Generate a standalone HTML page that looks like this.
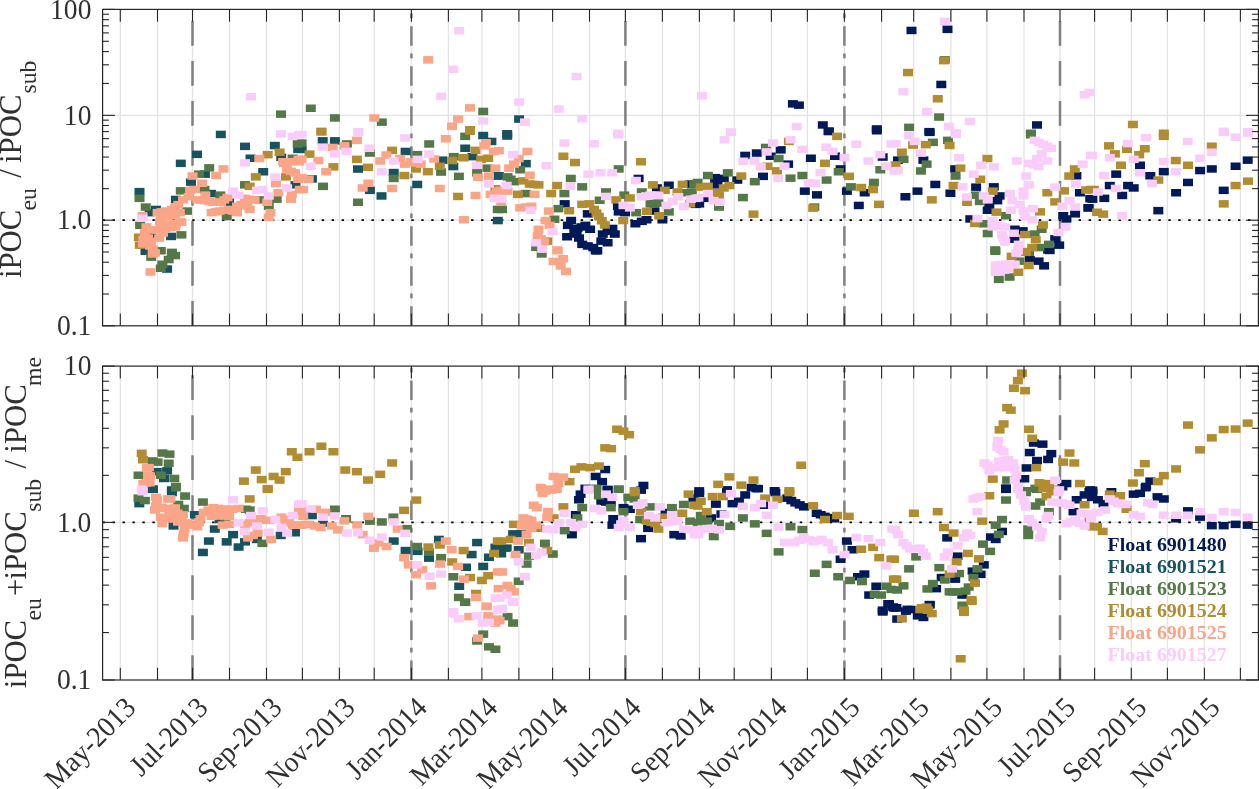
<!DOCTYPE html>
<html><head><meta charset="utf-8"><style>
html,body{margin:0;padding:0;background:#fff;overflow:hidden}
svg{display:block;will-change:transform}
text{font-family:"Liberation Serif",serif;}
.tl{font-size:29px;fill:#303030}
.yl{font-size:30.8px;fill:#303030}
.sb{font-size:23.7px;fill:#303030}
.lg{font-size:19px;font-weight:bold}
</style></head><body>
<svg width="1259" height="789" viewBox="0 0 1259 789">
<rect width="100%" height="100%" fill="#fff"/>
<defs><rect id="N" width="10" height="7.5" fill="#011959"/><rect id="T" width="10" height="7.5" fill="#165260"/><rect id="G" width="10" height="7.5" fill="#557848"/><rect id="Y" width="10" height="7.5" fill="#B28C30"/><rect id="S" width="10" height="7.5" fill="#FAA587"/><rect id="P" width="10" height="7.5" fill="#FACCFA"/></defs>
<line x1="120.30" y1="9.4" x2="120.30" y2="325.8" stroke="#e3e3e3" stroke-width="1.3"/>
<line x1="157.50" y1="9.4" x2="157.50" y2="325.8" stroke="#e3e3e3" stroke-width="1.3"/>
<line x1="192.50" y1="9.4" x2="192.50" y2="325.8" stroke="#e3e3e3" stroke-width="1.3"/>
<line x1="229.50" y1="9.4" x2="229.50" y2="325.8" stroke="#e3e3e3" stroke-width="1.3"/>
<line x1="266.50" y1="9.4" x2="266.50" y2="325.8" stroke="#e3e3e3" stroke-width="1.3"/>
<line x1="302.40" y1="9.4" x2="302.40" y2="325.8" stroke="#e3e3e3" stroke-width="1.3"/>
<line x1="339.40" y1="9.4" x2="339.40" y2="325.8" stroke="#e3e3e3" stroke-width="1.3"/>
<line x1="374.20" y1="9.4" x2="374.20" y2="325.8" stroke="#e3e3e3" stroke-width="1.3"/>
<line x1="411.40" y1="9.4" x2="411.40" y2="325.8" stroke="#e3e3e3" stroke-width="1.3"/>
<line x1="448.40" y1="9.4" x2="448.40" y2="325.8" stroke="#e3e3e3" stroke-width="1.3"/>
<line x1="481.90" y1="9.4" x2="481.90" y2="325.8" stroke="#e3e3e3" stroke-width="1.3"/>
<line x1="518.90" y1="9.4" x2="518.90" y2="325.8" stroke="#e3e3e3" stroke-width="1.3"/>
<line x1="552.60" y1="9.4" x2="552.60" y2="325.8" stroke="#e3e3e3" stroke-width="1.3"/>
<line x1="589.50" y1="9.4" x2="589.50" y2="325.8" stroke="#e3e3e3" stroke-width="1.3"/>
<line x1="625.40" y1="9.4" x2="625.40" y2="325.8" stroke="#e3e3e3" stroke-width="1.3"/>
<line x1="662.40" y1="9.4" x2="662.40" y2="325.8" stroke="#e3e3e3" stroke-width="1.3"/>
<line x1="699.40" y1="9.4" x2="699.40" y2="325.8" stroke="#e3e3e3" stroke-width="1.3"/>
<line x1="734.20" y1="9.4" x2="734.20" y2="325.8" stroke="#e3e3e3" stroke-width="1.3"/>
<line x1="771.40" y1="9.4" x2="771.40" y2="325.8" stroke="#e3e3e3" stroke-width="1.3"/>
<line x1="807.40" y1="9.4" x2="807.40" y2="325.8" stroke="#e3e3e3" stroke-width="1.3"/>
<line x1="844.40" y1="9.4" x2="844.40" y2="325.8" stroke="#e3e3e3" stroke-width="1.3"/>
<line x1="881.60" y1="9.4" x2="881.60" y2="325.8" stroke="#e3e3e3" stroke-width="1.3"/>
<line x1="913.70" y1="9.4" x2="913.70" y2="325.8" stroke="#e3e3e3" stroke-width="1.3"/>
<line x1="950.90" y1="9.4" x2="950.90" y2="325.8" stroke="#e3e3e3" stroke-width="1.3"/>
<line x1="986.90" y1="9.4" x2="986.90" y2="325.8" stroke="#e3e3e3" stroke-width="1.3"/>
<line x1="1024.00" y1="9.4" x2="1024.00" y2="325.8" stroke="#e3e3e3" stroke-width="1.3"/>
<line x1="1060.00" y1="9.4" x2="1060.00" y2="325.8" stroke="#e3e3e3" stroke-width="1.3"/>
<line x1="1094.60" y1="9.4" x2="1094.60" y2="325.8" stroke="#e3e3e3" stroke-width="1.3"/>
<line x1="1131.30" y1="9.4" x2="1131.30" y2="325.8" stroke="#e3e3e3" stroke-width="1.3"/>
<line x1="1167.40" y1="9.4" x2="1167.40" y2="325.8" stroke="#e3e3e3" stroke-width="1.3"/>
<line x1="1204.40" y1="9.4" x2="1204.40" y2="325.8" stroke="#e3e3e3" stroke-width="1.3"/>
<line x1="1240.40" y1="9.4" x2="1240.40" y2="325.8" stroke="#e3e3e3" stroke-width="1.3"/>
<line x1="102.6" y1="220.20" x2="1258.4" y2="220.20" stroke="#e3e3e3" stroke-width="1.3"/>
<line x1="102.6" y1="115.35" x2="1258.4" y2="115.35" stroke="#e3e3e3" stroke-width="1.3"/>
<line x1="192.50" y1="325.8" x2="192.50" y2="9.4" stroke="#808080" stroke-width="2.5" stroke-dasharray="24.8 15.2"/>
<line x1="411.40" y1="325.8" x2="411.40" y2="9.4" stroke="#808080" stroke-width="2.5" stroke-dasharray="19.5 8 4.8 7.7"/>
<line x1="625.40" y1="325.8" x2="625.40" y2="9.4" stroke="#808080" stroke-width="2.5" stroke-dasharray="24.8 15.2"/>
<line x1="844.40" y1="325.8" x2="844.40" y2="9.4" stroke="#808080" stroke-width="2.5" stroke-dasharray="19.5 8 4.8 7.7"/>
<line x1="1060.00" y1="325.8" x2="1060.00" y2="9.4" stroke="#808080" stroke-width="2.5" stroke-dasharray="24.8 15.2"/>
<line x1="102.58" y1="220.20" x2="1258.4" y2="220.20" stroke="#000" stroke-width="1.7" stroke-dasharray="2.4 7.56"/>
<g clip-path="url(#c1)">
<use href="#N" x="823.6" y="127.8"/>
<use href="#N" x="871.8" y="127.0"/>
<use href="#N" x="830.0" y="152.5"/>
<use href="#N" x="877.7" y="153.3"/>
<use href="#N" x="740.2" y="151.7"/>
<use href="#N" x="751.8" y="149.3"/>
<use href="#N" x="775.7" y="146.1"/>
<use href="#N" x="765.7" y="152.5"/>
<use href="#N" x="783.1" y="160.4"/>
<use href="#N" x="805.9" y="154.5"/>
<use href="#N" x="835.6" y="165.2"/>
<use href="#N" x="710.1" y="173.9"/>
<use href="#N" x="712.4" y="178.7"/>
<use href="#N" x="718.8" y="174.7"/>
<use href="#N" x="732.3" y="176.3"/>
<use href="#N" x="758.0" y="172.6"/>
<use href="#N" x="710.1" y="181.1"/>
<use href="#N" x="698.9" y="194.6"/>
<use href="#N" x="694.2" y="200.1"/>
<use href="#N" x="799.8" y="187.4"/>
<use href="#N" x="812.0" y="191.1"/>
<use href="#N" x="841.9" y="187.4"/>
<use href="#N" x="859.7" y="189.0"/>
<use href="#N" x="853.8" y="201.7"/>
<use href="#N" x="906.5" y="26.7"/>
<use href="#N" x="942.5" y="25.6"/>
<use href="#N" x="936.3" y="80.7"/>
<use href="#N" x="924.3" y="127.9"/>
<use href="#N" x="1032.0" y="121.2"/>
<use href="#N" x="924.7" y="128.6"/>
<use href="#N" x="893.0" y="156.4"/>
<use href="#N" x="918.4" y="156.4"/>
<use href="#N" x="950.2" y="165.2"/>
<use href="#N" x="1071.4" y="172.0"/>
<use href="#N" x="930.3" y="180.7"/>
<use href="#N" x="912.5" y="187.4"/>
<use href="#N" x="900.4" y="193.0"/>
<use href="#N" x="945.4" y="189.5"/>
<use href="#N" x="971.1" y="183.4"/>
<use href="#N" x="988.8" y="183.1"/>
<use href="#N" x="1074.9" y="189.0"/>
<use href="#N" x="1085.2" y="194.9"/>
<use href="#N" x="994.6" y="192.2"/>
<use href="#N" x="992.3" y="196.9"/>
<use href="#N" x="984.3" y="202.5"/>
<use href="#N" x="982.7" y="206.5"/>
<use href="#N" x="1083.6" y="204.1"/>
<use href="#N" x="1070.1" y="210.1"/>
<use href="#N" x="1058.2" y="212.0"/>
<use href="#N" x="1061.4" y="215.2"/>
<use href="#N" x="965.3" y="215.2"/>
<use href="#N" x="1009.7" y="225.5"/>
<use href="#N" x="1017.7" y="227.1"/>
<use href="#N" x="1009.4" y="235.5"/>
<use href="#N" x="1050.2" y="235.1"/>
<use href="#N" x="1054.2" y="241.4"/>
<use href="#N" x="1043.1" y="246.2"/>
<use href="#N" x="1044.7" y="246.7"/>
<use href="#N" x="1024.8" y="255.8"/>
<use href="#N" x="1033.6" y="257.4"/>
<use href="#N" x="1039.1" y="262.1"/>
<use href="#N" x="1135.0" y="161.5"/>
<use href="#N" x="1242.7" y="156.4"/>
<use href="#N" x="1230.6" y="162.5"/>
<use href="#N" x="1206.8" y="165.2"/>
<use href="#N" x="1195.1" y="166.8"/>
<use href="#N" x="1158.8" y="167.9"/>
<use href="#N" x="1145.3" y="172.0"/>
<use href="#N" x="1111.2" y="170.4"/>
<use href="#N" x="1183.0" y="178.7"/>
<use href="#N" x="1104.8" y="181.8"/>
<use href="#N" x="1123.1" y="181.8"/>
<use href="#N" x="1128.7" y="184.2"/>
<use href="#N" x="1117.2" y="191.7"/>
<use href="#N" x="1099.3" y="194.6"/>
<use href="#N" x="1087.4" y="195.4"/>
<use href="#N" x="1083.4" y="204.1"/>
<use href="#N" x="1153.3" y="206.9"/>
<use href="#N" x="1171.1" y="189.0"/>
<use href="#N" x="1218.7" y="186.6"/>
<use href="#N" x="633.6" y="174.7"/>
<use href="#N" x="651.9" y="184.2"/>
<use href="#N" x="663.8" y="181.5"/>
<use href="#N" x="685.2" y="180.3"/>
<use href="#N" x="559.7" y="200.1"/>
<use href="#N" x="582.8" y="210.1"/>
<use href="#N" x="612.9" y="202.5"/>
<use href="#N" x="613.7" y="208.1"/>
<use href="#N" x="620.1" y="208.9"/>
<use href="#N" x="649.5" y="207.3"/>
<use href="#N" x="657.4" y="216.0"/>
<use href="#N" x="690.8" y="200.6"/>
<use href="#N" x="630.4" y="220.0"/>
<use href="#N" x="636.8" y="217.6"/>
<use href="#N" x="641.5" y="216.0"/>
<use href="#N" x="566.1" y="216.8"/>
<use href="#N" x="562.9" y="221.6"/>
<use href="#N" x="572.4" y="224.7"/>
<use href="#N" x="576.4" y="223.2"/>
<use href="#N" x="580.4" y="221.6"/>
<use href="#N" x="585.1" y="225.5"/>
<use href="#N" x="562.1" y="233.0"/>
<use href="#N" x="569.3" y="226.3"/>
<use href="#N" x="571.6" y="230.3"/>
<use href="#N" x="574.0" y="234.3"/>
<use href="#N" x="577.2" y="240.6"/>
<use href="#N" x="582.8" y="242.2"/>
<use href="#N" x="588.3" y="243.8"/>
<use href="#N" x="592.3" y="247.0"/>
<use href="#N" x="596.3" y="237.4"/>
<use href="#N" x="602.6" y="239.0"/>
<use href="#N" x="597.8" y="230.3"/>
<use href="#N" x="602.6" y="227.5"/>
<use href="#N" x="607.4" y="224.7"/>
<use href="#N" x="609.8" y="230.3"/>
<use href="#N" x="590.7" y="247.0"/>
<use href="#N" x="787.9" y="100.1"/>
<use href="#N" x="793.9" y="101.4"/>
<use href="#N" x="817.8" y="121.2"/>
<use href="#N" x="823.8" y="127.3"/>
<use href="#N" x="871.8" y="125.2"/>
<use href="#T" x="215.8" y="130.7"/>
<use href="#T" x="240.0" y="142.6"/>
<use href="#T" x="269.8" y="141.8"/>
<use href="#T" x="293.2" y="145.6"/>
<use href="#T" x="192.0" y="150.6"/>
<use href="#T" x="245.5" y="154.5"/>
<use href="#T" x="276.2" y="153.6"/>
<use href="#T" x="175.8" y="159.6"/>
<use href="#T" x="258.2" y="168.0"/>
<use href="#T" x="199.9" y="170.4"/>
<use href="#T" x="186.0" y="178.4"/>
<use href="#T" x="290.5" y="181.1"/>
<use href="#T" x="206.0" y="189.8"/>
<use href="#T" x="134.5" y="187.9"/>
<use href="#T" x="170.9" y="195.7"/>
<use href="#T" x="151.0" y="205.7"/>
<use href="#T" x="144.7" y="208.9"/>
<use href="#T" x="224.1" y="198.5"/>
<use href="#T" x="146.2" y="231.1"/>
<use href="#T" x="166.1" y="232.7"/>
<use href="#T" x="140.7" y="247.0"/>
<use href="#T" x="140.7" y="247.5"/>
<use href="#T" x="162.1" y="265.3"/>
<use href="#T" x="478.2" y="131.8"/>
<use href="#T" x="317.7" y="137.1"/>
<use href="#T" x="329.9" y="137.1"/>
<use href="#T" x="296.6" y="145.6"/>
<use href="#T" x="460.2" y="144.5"/>
<use href="#T" x="486.4" y="137.7"/>
<use href="#T" x="400.6" y="147.7"/>
<use href="#T" x="437.2" y="156.4"/>
<use href="#T" x="467.4" y="152.9"/>
<use href="#T" x="448.3" y="162.8"/>
<use href="#T" x="353.0" y="165.3"/>
<use href="#T" x="388.7" y="168.8"/>
<use href="#T" x="492.0" y="172.3"/>
<use href="#T" x="306.9" y="175.2"/>
<use href="#T" x="364.9" y="186.6"/>
<use href="#T" x="412.2" y="180.7"/>
<use href="#T" x="376.5" y="192.2"/>
<use href="#T" x="492.8" y="216.8"/>
<use href="#T" x="514.1" y="115.3"/>
<use href="#T" x="502.2" y="130.0"/>
<use href="#T" x="502.2" y="132.3"/>
<use href="#T" x="520.8" y="159.9"/>
<use href="#T" x="493.8" y="172.0"/>
<use href="#G" x="276.0" y="110.4"/>
<use href="#G" x="760.9" y="143.7"/>
<use href="#G" x="773.6" y="154.8"/>
<use href="#G" x="875.3" y="166.0"/>
<use href="#G" x="833.7" y="168.0"/>
<use href="#G" x="785.5" y="174.4"/>
<use href="#G" x="797.4" y="171.8"/>
<use href="#G" x="821.6" y="176.3"/>
<use href="#G" x="702.9" y="171.8"/>
<use href="#G" x="722.8" y="169.1"/>
<use href="#G" x="749.8" y="177.9"/>
<use href="#G" x="692.6" y="178.7"/>
<use href="#G" x="714.0" y="203.3"/>
<use href="#G" x="737.9" y="193.8"/>
<use href="#G" x="809.3" y="203.3"/>
<use href="#G" x="845.9" y="183.1"/>
<use href="#G" x="868.9" y="178.7"/>
<use href="#G" x="939.8" y="56.1"/>
<use href="#G" x="934.1" y="113.3"/>
<use href="#G" x="904.1" y="123.6"/>
<use href="#G" x="1025.9" y="129.5"/>
<use href="#G" x="927.9" y="138.6"/>
<use href="#G" x="943.0" y="136.6"/>
<use href="#G" x="898.5" y="155.6"/>
<use href="#G" x="921.6" y="160.4"/>
<use href="#G" x="916.0" y="167.2"/>
<use href="#G" x="1025.9" y="131.0"/>
<use href="#G" x="950.6" y="172.3"/>
<use href="#G" x="970.8" y="191.4"/>
<use href="#G" x="974.8" y="197.7"/>
<use href="#G" x="1001.0" y="212.0"/>
<use href="#G" x="978.8" y="220.0"/>
<use href="#G" x="982.7" y="229.8"/>
<use href="#G" x="1036.7" y="225.5"/>
<use href="#G" x="1029.6" y="230.3"/>
<use href="#G" x="1043.9" y="240.6"/>
<use href="#G" x="1034.4" y="243.8"/>
<use href="#G" x="990.2" y="246.2"/>
<use href="#G" x="990.4" y="247.5"/>
<use href="#G" x="1014.5" y="257.4"/>
<use href="#G" x="1024.0" y="248.6"/>
<use href="#G" x="993.8" y="275.6"/>
<use href="#G" x="1004.6" y="273.3"/>
<use href="#G" x="292.7" y="140.2"/>
<use href="#G" x="287.6" y="154.5"/>
<use href="#G" x="204.2" y="164.1"/>
<use href="#G" x="193.9" y="170.4"/>
<use href="#G" x="240.0" y="181.1"/>
<use href="#G" x="199.5" y="185.8"/>
<use href="#G" x="215.3" y="191.4"/>
<use href="#G" x="134.5" y="194.6"/>
<use href="#G" x="175.8" y="187.1"/>
<use href="#G" x="140.7" y="203.3"/>
<use href="#G" x="182.0" y="207.3"/>
<use href="#G" x="221.7" y="212.8"/>
<use href="#G" x="255.1" y="196.1"/>
<use href="#G" x="263.8" y="202.5"/>
<use href="#G" x="271.7" y="195.4"/>
<use href="#G" x="135.1" y="221.6"/>
<use href="#G" x="176.4" y="231.1"/>
<use href="#G" x="155.8" y="247.0"/>
<use href="#G" x="166.9" y="248.6"/>
<use href="#G" x="146.2" y="253.4"/>
<use href="#G" x="166.9" y="250.2"/>
<use href="#G" x="170.1" y="251.8"/>
<use href="#G" x="163.7" y="255.8"/>
<use href="#G" x="157.4" y="260.5"/>
<use href="#G" x="155.8" y="264.5"/>
<use href="#G" x="305.8" y="104.5"/>
<use href="#G" x="329.9" y="114.2"/>
<use href="#G" x="376.8" y="118.4"/>
<use href="#G" x="478.2" y="107.7"/>
<use href="#G" x="460.2" y="132.6"/>
<use href="#G" x="341.9" y="140.2"/>
<use href="#G" x="296.6" y="139.3"/>
<use href="#G" x="364.9" y="149.3"/>
<use href="#G" x="424.2" y="140.2"/>
<use href="#G" x="412.2" y="150.9"/>
<use href="#G" x="448.8" y="152.9"/>
<use href="#G" x="388.7" y="174.7"/>
<use href="#G" x="436.1" y="168.3"/>
<use href="#G" x="453.9" y="172.6"/>
<use href="#G" x="482.5" y="164.4"/>
<use href="#G" x="472.1" y="169.1"/>
<use href="#G" x="318.0" y="182.6"/>
<use href="#G" x="353.0" y="198.5"/>
<use href="#G" x="492.8" y="205.7"/>
<use href="#G" x="515.2" y="166.0"/>
<use href="#G" x="613.7" y="165.2"/>
<use href="#G" x="502.5" y="173.1"/>
<use href="#G" x="505.7" y="175.5"/>
<use href="#G" x="508.9" y="177.9"/>
<use href="#G" x="565.8" y="174.7"/>
<use href="#G" x="577.2" y="183.1"/>
<use href="#G" x="520.8" y="189.8"/>
<use href="#G" x="559.4" y="189.8"/>
<use href="#G" x="689.2" y="180.3"/>
<use href="#G" x="497.0" y="205.7"/>
<use href="#G" x="553.4" y="204.9"/>
<use href="#G" x="594.7" y="196.5"/>
<use href="#G" x="601.0" y="188.2"/>
<use href="#G" x="619.3" y="191.4"/>
<use href="#G" x="631.2" y="208.9"/>
<use href="#G" x="636.8" y="188.2"/>
<use href="#G" x="645.5" y="200.1"/>
<use href="#G" x="649.5" y="199.7"/>
<use href="#G" x="653.4" y="199.3"/>
<use href="#G" x="663.8" y="208.1"/>
<use href="#G" x="681.2" y="189.0"/>
<use href="#G" x="686.8" y="188.2"/>
<use href="#G" x="549.4" y="215.5"/>
<use href="#G" x="531.1" y="243.5"/>
<use href="#G" x="536.7" y="250.2"/>
<use href="#Y" x="832.1" y="132.6"/>
<use href="#Y" x="783.9" y="137.7"/>
<use href="#Y" x="762.5" y="162.5"/>
<use href="#Y" x="820.0" y="159.6"/>
<use href="#Y" x="888.8" y="162.8"/>
<use href="#Y" x="772.0" y="167.1"/>
<use href="#Y" x="844.0" y="172.6"/>
<use href="#Y" x="736.3" y="172.3"/>
<use href="#Y" x="695.8" y="183.4"/>
<use href="#Y" x="702.9" y="182.6"/>
<use href="#Y" x="718.8" y="184.2"/>
<use href="#Y" x="724.4" y="181.8"/>
<use href="#Y" x="711.7" y="189.0"/>
<use href="#Y" x="714.0" y="191.4"/>
<use href="#Y" x="748.5" y="210.4"/>
<use href="#Y" x="808.2" y="204.4"/>
<use href="#Y" x="856.2" y="183.8"/>
<use href="#Y" x="868.1" y="185.8"/>
<use href="#Y" x="874.0" y="200.6"/>
<use href="#Y" x="939.0" y="56.9"/>
<use href="#Y" x="903.0" y="68.8"/>
<use href="#Y" x="932.8" y="95.0"/>
<use href="#Y" x="908.1" y="141.3"/>
<use href="#Y" x="920.8" y="140.9"/>
<use href="#Y" x="944.6" y="141.7"/>
<use href="#Y" x="896.9" y="148.5"/>
<use href="#Y" x="890.6" y="161.2"/>
<use href="#Y" x="982.4" y="154.8"/>
<use href="#Y" x="955.4" y="164.4"/>
<use href="#Y" x="975.3" y="175.5"/>
<use href="#Y" x="1069.8" y="165.2"/>
<use href="#Y" x="1064.2" y="172.3"/>
<use href="#Y" x="926.8" y="196.1"/>
<use href="#Y" x="948.6" y="181.8"/>
<use href="#Y" x="987.8" y="187.4"/>
<use href="#Y" x="1042.3" y="189.0"/>
<use href="#Y" x="1059.0" y="187.1"/>
<use href="#Y" x="1081.2" y="186.3"/>
<use href="#Y" x="1086.0" y="185.8"/>
<use href="#Y" x="962.1" y="198.5"/>
<use href="#Y" x="991.5" y="208.4"/>
<use href="#Y" x="1035.1" y="208.1"/>
<use href="#Y" x="1050.2" y="198.1"/>
<use href="#Y" x="970.0" y="219.7"/>
<use href="#Y" x="1020.1" y="230.8"/>
<use href="#Y" x="1038.0" y="221.2"/>
<use href="#Y" x="1030.7" y="235.9"/>
<use href="#Y" x="1027.2" y="243.8"/>
<use href="#Y" x="1020.9" y="248.6"/>
<use href="#Y" x="1006.6" y="252.6"/>
<use href="#Y" x="1020.9" y="247.8"/>
<use href="#Y" x="1023.7" y="261.8"/>
<use href="#Y" x="1013.2" y="268.5"/>
<use href="#Y" x="1127.9" y="120.7"/>
<use href="#Y" x="1158.8" y="129.5"/>
<use href="#Y" x="1158.8" y="132.6"/>
<use href="#Y" x="1104.0" y="142.1"/>
<use href="#Y" x="1109.9" y="150.1"/>
<use href="#Y" x="1122.0" y="145.6"/>
<use href="#Y" x="1139.8" y="145.0"/>
<use href="#Y" x="1134.2" y="150.9"/>
<use href="#Y" x="1116.0" y="161.5"/>
<use href="#Y" x="1170.8" y="156.8"/>
<use href="#Y" x="1183.0" y="161.5"/>
<use href="#Y" x="1206.8" y="142.5"/>
<use href="#Y" x="1153.3" y="176.3"/>
<use href="#Y" x="1088.9" y="185.8"/>
<use href="#Y" x="1092.1" y="208.5"/>
<use href="#Y" x="1098.2" y="210.4"/>
<use href="#Y" x="1230.6" y="181.8"/>
<use href="#Y" x="1243.0" y="177.4"/>
<use href="#Y" x="1218.7" y="200.1"/>
<use href="#Y" x="262.7" y="150.9"/>
<use href="#Y" x="274.6" y="148.5"/>
<use href="#Y" x="250.8" y="173.1"/>
<use href="#Y" x="281.0" y="173.1"/>
<use href="#Y" x="244.7" y="182.6"/>
<use href="#Y" x="133.9" y="233.5"/>
<use href="#Y" x="134.8" y="241.4"/>
<use href="#Y" x="465.0" y="126.0"/>
<use href="#Y" x="316.4" y="127.6"/>
<use href="#Y" x="316.4" y="128.2"/>
<use href="#Y" x="465.0" y="127.5"/>
<use href="#Y" x="470.5" y="146.6"/>
<use href="#Y" x="304.5" y="150.4"/>
<use href="#Y" x="351.9" y="155.6"/>
<use href="#Y" x="387.1" y="146.6"/>
<use href="#Y" x="447.2" y="156.8"/>
<use href="#Y" x="458.6" y="154.0"/>
<use href="#Y" x="476.1" y="155.6"/>
<use href="#Y" x="483.2" y="154.5"/>
<use href="#Y" x="434.8" y="162.5"/>
<use href="#Y" x="328.4" y="163.1"/>
<use href="#Y" x="363.0" y="163.6"/>
<use href="#Y" x="399.4" y="171.8"/>
<use href="#Y" x="411.0" y="165.2"/>
<use href="#Y" x="422.9" y="167.9"/>
<use href="#Y" x="453.1" y="192.7"/>
<use href="#Y" x="490.4" y="185.0"/>
<use href="#Y" x="558.4" y="152.5"/>
<use href="#Y" x="570.0" y="158.8"/>
<use href="#Y" x="636.0" y="158.0"/>
<use href="#Y" x="518.4" y="177.1"/>
<use href="#Y" x="524.8" y="180.3"/>
<use href="#Y" x="529.1" y="180.7"/>
<use href="#Y" x="533.5" y="181.1"/>
<use href="#Y" x="552.1" y="181.8"/>
<use href="#Y" x="512.9" y="190.6"/>
<use href="#Y" x="546.2" y="189.8"/>
<use href="#Y" x="647.9" y="181.1"/>
<use href="#Y" x="659.8" y="186.6"/>
<use href="#Y" x="677.6" y="180.6"/>
<use href="#Y" x="564.2" y="206.9"/>
<use href="#Y" x="577.2" y="200.6"/>
<use href="#Y" x="584.3" y="200.1"/>
<use href="#Y" x="589.1" y="205.7"/>
<use href="#Y" x="591.5" y="209.3"/>
<use href="#Y" x="593.9" y="212.8"/>
<use href="#Y" x="596.8" y="217.0"/>
<use href="#Y" x="599.8" y="221.2"/>
<use href="#Y" x="611.3" y="196.1"/>
<use href="#Y" x="624.9" y="194.2"/>
<use href="#Y" x="642.0" y="207.6"/>
<use href="#Y" x="654.2" y="212.0"/>
<use href="#Y" x="672.5" y="188.2"/>
<use href="#Y" x="685.2" y="200.1"/>
<use href="#Y" x="618.2" y="216.8"/>
<use href="#Y" x="542.2" y="237.4"/>
<use href="#S" x="160.0" y="212.2"/>
<use href="#S" x="170.0" y="210.2"/>
<use href="#S" x="155.0" y="218.2"/>
<use href="#S" x="165.0" y="220.2"/>
<use href="#S" x="175.0" y="218.2"/>
<use href="#S" x="147.0" y="226.2"/>
<use href="#S" x="143.0" y="234.2"/>
<use href="#S" x="138.0" y="240.2"/>
<use href="#S" x="145.0" y="242.2"/>
<use href="#S" x="150.0" y="249.2"/>
<use href="#S" x="158.0" y="229.2"/>
<use href="#S" x="254.3" y="154.8"/>
<use href="#S" x="293.5" y="155.6"/>
<use href="#S" x="218.5" y="165.2"/>
<use href="#S" x="187.5" y="172.3"/>
<use href="#S" x="211.1" y="171.8"/>
<use href="#S" x="278.9" y="159.6"/>
<use href="#S" x="282.1" y="166.0"/>
<use href="#S" x="286.0" y="167.6"/>
<use href="#S" x="290.0" y="169.1"/>
<use href="#S" x="293.2" y="175.5"/>
<use href="#S" x="278.1" y="158.0"/>
<use href="#S" x="283.4" y="158.0"/>
<use href="#S" x="288.7" y="158.0"/>
<use href="#S" x="294.0" y="158.0"/>
<use href="#S" x="197.1" y="179.5"/>
<use href="#S" x="270.9" y="179.9"/>
<use href="#S" x="273.3" y="189.0"/>
<use href="#S" x="286.8" y="190.6"/>
<use href="#S" x="286.0" y="195.4"/>
<use href="#S" x="294.8" y="185.8"/>
<use href="#S" x="200.3" y="191.4"/>
<use href="#S" x="185.2" y="186.6"/>
<use href="#S" x="189.1" y="185.8"/>
<use href="#S" x="183.6" y="193.0"/>
<use href="#S" x="178.0" y="196.1"/>
<use href="#S" x="173.3" y="200.9"/>
<use href="#S" x="170.1" y="203.3"/>
<use href="#S" x="166.9" y="205.7"/>
<use href="#S" x="160.5" y="207.3"/>
<use href="#S" x="156.6" y="208.1"/>
<use href="#S" x="152.6" y="208.9"/>
<use href="#S" x="155.8" y="212.0"/>
<use href="#S" x="160.5" y="212.0"/>
<use href="#S" x="165.3" y="212.0"/>
<use href="#S" x="170.1" y="210.4"/>
<use href="#S" x="174.8" y="208.9"/>
<use href="#S" x="155.8" y="220.0"/>
<use href="#S" x="160.5" y="220.8"/>
<use href="#S" x="165.3" y="221.6"/>
<use href="#S" x="170.9" y="220.0"/>
<use href="#S" x="176.4" y="218.4"/>
<use href="#S" x="152.6" y="226.3"/>
<use href="#S" x="156.6" y="225.5"/>
<use href="#S" x="160.5" y="224.7"/>
<use href="#S" x="165.3" y="223.9"/>
<use href="#S" x="170.1" y="223.2"/>
<use href="#S" x="192.3" y="196.1"/>
<use href="#S" x="196.3" y="196.5"/>
<use href="#S" x="200.3" y="196.9"/>
<use href="#S" x="204.2" y="197.7"/>
<use href="#S" x="208.2" y="198.5"/>
<use href="#S" x="212.2" y="198.5"/>
<use href="#S" x="216.1" y="198.5"/>
<use href="#S" x="219.3" y="196.1"/>
<use href="#S" x="222.5" y="193.8"/>
<use href="#S" x="206.6" y="208.9"/>
<use href="#S" x="210.6" y="208.1"/>
<use href="#S" x="214.6" y="207.3"/>
<use href="#S" x="219.3" y="206.5"/>
<use href="#S" x="224.1" y="205.7"/>
<use href="#S" x="228.1" y="207.3"/>
<use href="#S" x="232.0" y="208.9"/>
<use href="#S" x="232.0" y="202.5"/>
<use href="#S" x="236.0" y="200.9"/>
<use href="#S" x="240.0" y="199.3"/>
<use href="#S" x="242.4" y="202.5"/>
<use href="#S" x="244.7" y="205.7"/>
<use href="#S" x="249.5" y="196.1"/>
<use href="#S" x="244.7" y="195.4"/>
<use href="#S" x="240.0" y="194.6"/>
<use href="#S" x="262.2" y="198.5"/>
<use href="#S" x="265.4" y="208.9"/>
<use href="#S" x="263.8" y="213.6"/>
<use href="#S" x="137.5" y="212.0"/>
<use href="#S" x="141.5" y="223.2"/>
<use href="#S" x="139.9" y="229.5"/>
<use href="#S" x="138.3" y="235.9"/>
<use href="#S" x="144.7" y="237.4"/>
<use href="#S" x="146.2" y="241.4"/>
<use href="#S" x="147.8" y="245.4"/>
<use href="#S" x="154.2" y="234.3"/>
<use href="#S" x="147.8" y="250.2"/>
<use href="#S" x="145.5" y="268.2"/>
<use href="#S" x="423.2" y="56.1"/>
<use href="#S" x="369.3" y="114.2"/>
<use href="#S" x="465.0" y="104.1"/>
<use href="#S" x="453.1" y="115.3"/>
<use href="#S" x="447.0" y="122.5"/>
<use href="#S" x="440.8" y="135.0"/>
<use href="#S" x="351.9" y="136.6"/>
<use href="#S" x="339.5" y="142.1"/>
<use href="#S" x="327.6" y="143.7"/>
<use href="#S" x="480.9" y="139.0"/>
<use href="#S" x="479.3" y="142.1"/>
<use href="#S" x="488.8" y="147.7"/>
<use href="#S" x="313.3" y="156.8"/>
<use href="#S" x="296.6" y="155.6"/>
<use href="#S" x="381.3" y="151.3"/>
<use href="#S" x="375.2" y="157.2"/>
<use href="#S" x="395.1" y="154.8"/>
<use href="#S" x="399.8" y="160.4"/>
<use href="#S" x="406.2" y="158.0"/>
<use href="#S" x="411.0" y="159.2"/>
<use href="#S" x="415.7" y="160.4"/>
<use href="#S" x="429.2" y="155.2"/>
<use href="#S" x="321.2" y="167.9"/>
<use href="#S" x="490.4" y="164.4"/>
<use href="#S" x="472.9" y="173.6"/>
<use href="#S" x="484.0" y="172.3"/>
<use href="#S" x="303.7" y="175.5"/>
<use href="#S" x="296.6" y="173.9"/>
<use href="#S" x="298.2" y="185.8"/>
<use href="#S" x="363.3" y="179.5"/>
<use href="#S" x="357.7" y="184.2"/>
<use href="#S" x="387.1" y="184.7"/>
<use href="#S" x="434.8" y="184.7"/>
<use href="#S" x="470.5" y="191.7"/>
<use href="#S" x="492.0" y="187.4"/>
<use href="#S" x="485.6" y="190.6"/>
<use href="#S" x="458.9" y="216.0"/>
<use href="#S" x="522.4" y="147.7"/>
<use href="#S" x="493.8" y="146.9"/>
<use href="#S" x="513.7" y="154.8"/>
<use href="#S" x="508.9" y="160.4"/>
<use href="#S" x="504.1" y="164.4"/>
<use href="#S" x="524.8" y="171.5"/>
<use href="#S" x="496.2" y="186.6"/>
<use href="#S" x="502.5" y="187.4"/>
<use href="#S" x="529.5" y="190.6"/>
<use href="#S" x="496.2" y="198.5"/>
<use href="#S" x="515.2" y="204.1"/>
<use href="#S" x="520.8" y="203.3"/>
<use href="#S" x="526.4" y="202.5"/>
<use href="#S" x="543.8" y="207.3"/>
<use href="#S" x="540.7" y="216.8"/>
<use href="#S" x="544.6" y="221.6"/>
<use href="#S" x="533.5" y="225.5"/>
<use href="#S" x="532.7" y="231.9"/>
<use href="#S" x="535.9" y="235.1"/>
<use href="#S" x="539.1" y="238.2"/>
<use href="#S" x="552.3" y="246.2"/>
<use href="#S" x="552.6" y="247.0"/>
<use href="#S" x="558.1" y="255.0"/>
<use href="#S" x="548.6" y="257.7"/>
<use href="#S" x="555.7" y="262.1"/>
<use href="#S" x="561.0" y="267.7"/>
<use href="#P" x="246.0" y="93.1"/>
<use href="#P" x="725.9" y="128.6"/>
<use href="#P" x="719.6" y="136.1"/>
<use href="#P" x="785.5" y="136.1"/>
<use href="#P" x="768.0" y="139.3"/>
<use href="#P" x="851.4" y="140.5"/>
<use href="#P" x="886.4" y="140.2"/>
<use href="#P" x="797.4" y="145.6"/>
<use href="#P" x="821.3" y="143.4"/>
<use href="#P" x="827.6" y="147.7"/>
<use href="#P" x="839.5" y="154.0"/>
<use href="#P" x="875.3" y="150.9"/>
<use href="#P" x="761.7" y="148.2"/>
<use href="#P" x="738.3" y="157.5"/>
<use href="#P" x="749.5" y="157.2"/>
<use href="#P" x="755.8" y="163.1"/>
<use href="#P" x="779.5" y="162.5"/>
<use href="#P" x="863.4" y="157.2"/>
<use href="#P" x="881.3" y="162.5"/>
<use href="#P" x="889.6" y="167.2"/>
<use href="#P" x="815.4" y="168.8"/>
<use href="#P" x="773.3" y="174.7"/>
<use href="#P" x="803.8" y="179.0"/>
<use href="#P" x="810.1" y="179.5"/>
<use href="#P" x="702.9" y="189.8"/>
<use href="#P" x="693.4" y="194.2"/>
<use href="#P" x="708.5" y="196.9"/>
<use href="#P" x="714.8" y="198.5"/>
<use href="#P" x="939.8" y="17.6"/>
<use href="#P" x="898.5" y="87.9"/>
<use href="#P" x="922.0" y="107.7"/>
<use href="#P" x="964.9" y="117.7"/>
<use href="#P" x="943.8" y="122.8"/>
<use href="#P" x="951.0" y="129.2"/>
<use href="#P" x="1079.6" y="91.0"/>
<use href="#P" x="1084.4" y="88.6"/>
<use href="#P" x="904.1" y="131.8"/>
<use href="#P" x="909.7" y="137.7"/>
<use href="#P" x="951.0" y="130.7"/>
<use href="#P" x="890.6" y="139.8"/>
<use href="#P" x="916.0" y="149.3"/>
<use href="#P" x="893.0" y="166.8"/>
<use href="#P" x="1029.6" y="136.6"/>
<use href="#P" x="1034.0" y="138.6"/>
<use href="#P" x="1038.3" y="140.5"/>
<use href="#P" x="1042.3" y="142.5"/>
<use href="#P" x="1046.3" y="144.5"/>
<use href="#P" x="1036.7" y="150.1"/>
<use href="#P" x="1032.0" y="154.8"/>
<use href="#P" x="1042.3" y="157.2"/>
<use href="#P" x="1024.0" y="159.6"/>
<use href="#P" x="1028.8" y="161.2"/>
<use href="#P" x="1033.6" y="162.8"/>
<use href="#P" x="1086.0" y="151.7"/>
<use href="#P" x="1077.7" y="160.4"/>
<use href="#P" x="954.1" y="154.0"/>
<use href="#P" x="976.1" y="161.5"/>
<use href="#P" x="988.8" y="163.1"/>
<use href="#P" x="1011.8" y="157.2"/>
<use href="#P" x="968.7" y="170.4"/>
<use href="#P" x="1021.3" y="172.3"/>
<use href="#P" x="957.6" y="183.1"/>
<use href="#P" x="1024.0" y="181.1"/>
<use href="#P" x="1018.5" y="187.4"/>
<use href="#P" x="1050.2" y="183.4"/>
<use href="#P" x="1070.9" y="180.3"/>
<use href="#P" x="961.8" y="193.3"/>
<use href="#P" x="978.8" y="192.2"/>
<use href="#P" x="982.7" y="196.1"/>
<use href="#P" x="1005.0" y="189.8"/>
<use href="#P" x="1007.3" y="196.9"/>
<use href="#P" x="1018.5" y="192.2"/>
<use href="#P" x="1005.8" y="206.5"/>
<use href="#P" x="1014.5" y="200.9"/>
<use href="#P" x="1018.5" y="207.3"/>
<use href="#P" x="1028.0" y="204.9"/>
<use href="#P" x="1057.4" y="202.5"/>
<use href="#P" x="1064.5" y="196.9"/>
<use href="#P" x="1070.1" y="203.3"/>
<use href="#P" x="1020.1" y="212.8"/>
<use href="#P" x="1027.2" y="216.0"/>
<use href="#P" x="972.4" y="214.9"/>
<use href="#P" x="987.5" y="216.8"/>
<use href="#P" x="992.3" y="221.6"/>
<use href="#P" x="996.2" y="222.4"/>
<use href="#P" x="1000.2" y="223.2"/>
<use href="#P" x="987.5" y="223.2"/>
<use href="#P" x="1060.6" y="223.2"/>
<use href="#P" x="1053.4" y="228.7"/>
<use href="#P" x="997.0" y="231.1"/>
<use href="#P" x="998.6" y="234.7"/>
<use href="#P" x="1000.2" y="238.2"/>
<use href="#P" x="1008.9" y="229.5"/>
<use href="#P" x="1013.7" y="240.6"/>
<use href="#P" x="1012.9" y="247.0"/>
<use href="#P" x="1011.3" y="249.4"/>
<use href="#P" x="990.7" y="261.3"/>
<use href="#P" x="995.4" y="260.9"/>
<use href="#P" x="1000.2" y="260.5"/>
<use href="#P" x="1005.0" y="260.5"/>
<use href="#P" x="1009.7" y="260.5"/>
<use href="#P" x="990.7" y="268.5"/>
<use href="#P" x="994.9" y="267.4"/>
<use href="#P" x="999.1" y="266.4"/>
<use href="#P" x="1003.4" y="265.3"/>
<use href="#P" x="1218.7" y="127.6"/>
<use href="#P" x="1243.0" y="127.9"/>
<use href="#P" x="1141.1" y="133.9"/>
<use href="#P" x="1182.7" y="137.7"/>
<use href="#P" x="1218.9" y="128.6"/>
<use href="#P" x="1230.6" y="133.4"/>
<use href="#P" x="1243.0" y="129.4"/>
<use href="#P" x="1122.8" y="139.8"/>
<use href="#P" x="1128.7" y="155.6"/>
<use href="#P" x="1087.0" y="151.7"/>
<use href="#P" x="1104.8" y="154.0"/>
<use href="#P" x="1158.8" y="157.7"/>
<use href="#P" x="1195.1" y="154.5"/>
<use href="#P" x="1206.8" y="148.5"/>
<use href="#P" x="1170.8" y="167.9"/>
<use href="#P" x="1135.0" y="169.1"/>
<use href="#P" x="1099.0" y="171.8"/>
<use href="#P" x="1146.9" y="179.9"/>
<use href="#P" x="1110.9" y="184.7"/>
<use href="#P" x="1092.9" y="188.2"/>
<use href="#P" x="1117.1" y="212.0"/>
<use href="#P" x="276.0" y="130.2"/>
<use href="#P" x="287.6" y="132.6"/>
<use href="#P" x="294.0" y="131.0"/>
<use href="#P" x="240.0" y="159.1"/>
<use href="#P" x="270.2" y="173.4"/>
<use href="#P" x="282.1" y="184.2"/>
<use href="#P" x="228.1" y="187.4"/>
<use href="#P" x="233.6" y="191.4"/>
<use href="#P" x="251.9" y="186.6"/>
<use href="#P" x="257.4" y="185.8"/>
<use href="#P" x="263.8" y="192.2"/>
<use href="#P" x="137.5" y="214.4"/>
<use href="#P" x="454.2" y="27.0"/>
<use href="#P" x="448.3" y="65.6"/>
<use href="#P" x="436.2" y="92.6"/>
<use href="#P" x="478.2" y="117.2"/>
<use href="#P" x="353.3" y="127.9"/>
<use href="#P" x="353.3" y="128.6"/>
<use href="#P" x="296.6" y="130.7"/>
<use href="#P" x="400.2" y="134.2"/>
<use href="#P" x="317.7" y="143.4"/>
<use href="#P" x="364.4" y="144.5"/>
<use href="#P" x="329.9" y="150.1"/>
<use href="#P" x="341.5" y="147.7"/>
<use href="#P" x="388.7" y="157.2"/>
<use href="#P" x="412.6" y="155.6"/>
<use href="#P" x="424.2" y="150.4"/>
<use href="#P" x="472.1" y="161.5"/>
<use href="#P" x="305.8" y="162.5"/>
<use href="#P" x="376.8" y="167.9"/>
<use href="#P" x="484.0" y="180.3"/>
<use href="#P" x="489.6" y="194.6"/>
<use href="#P" x="571.6" y="72.8"/>
<use href="#P" x="514.1" y="98.3"/>
<use href="#P" x="553.8" y="105.3"/>
<use href="#P" x="520.0" y="118.4"/>
<use href="#P" x="577.2" y="114.9"/>
<use href="#P" x="613.3" y="129.5"/>
<use href="#P" x="613.3" y="131.0"/>
<use href="#P" x="559.4" y="139.3"/>
<use href="#P" x="589.1" y="140.1"/>
<use href="#P" x="508.1" y="150.9"/>
<use href="#P" x="541.5" y="162.0"/>
<use href="#P" x="583.5" y="170.4"/>
<use href="#P" x="595.5" y="169.1"/>
<use href="#P" x="607.1" y="169.1"/>
<use href="#P" x="501.7" y="181.8"/>
<use href="#P" x="565.3" y="182.6"/>
<use href="#P" x="630.9" y="176.8"/>
<use href="#P" x="496.2" y="195.4"/>
<use href="#P" x="525.6" y="206.5"/>
<use href="#P" x="601.0" y="192.7"/>
<use href="#P" x="618.5" y="201.7"/>
<use href="#P" x="624.9" y="204.1"/>
<use href="#P" x="636.8" y="193.0"/>
<use href="#P" x="641.1" y="192.2"/>
<use href="#P" x="645.5" y="191.4"/>
<use href="#P" x="649.5" y="191.5"/>
<use href="#P" x="653.4" y="191.7"/>
<use href="#P" x="661.4" y="201.7"/>
<use href="#P" x="667.7" y="197.7"/>
<use href="#P" x="673.3" y="193.0"/>
<use href="#P" x="678.9" y="202.8"/>
<use href="#P" x="686.0" y="195.4"/>
<use href="#P" x="690.8" y="194.6"/>
<use href="#P" x="547.5" y="227.9"/>
<use href="#P" x="531.1" y="239.0"/>
<use href="#P" x="537.2" y="245.4"/>
<use href="#P" x="697.0" y="92.1"/>
<use href="#P" x="791.7" y="122.8"/>
<use href="#P" x="725.9" y="128.4"/>
</g>
<line x1="120.30" y1="9.4" x2="120.30" y2="21.700000000000003" stroke="#262626" stroke-width="1.1"/>
<line x1="120.30" y1="325.8" x2="120.30" y2="313.5" stroke="#262626" stroke-width="1.1"/>
<line x1="157.50" y1="9.4" x2="157.50" y2="21.700000000000003" stroke="#262626" stroke-width="1.1"/>
<line x1="157.50" y1="325.8" x2="157.50" y2="313.5" stroke="#262626" stroke-width="1.1"/>
<line x1="192.50" y1="9.4" x2="192.50" y2="21.700000000000003" stroke="#262626" stroke-width="1.1"/>
<line x1="192.50" y1="325.8" x2="192.50" y2="313.5" stroke="#262626" stroke-width="1.1"/>
<line x1="229.50" y1="9.4" x2="229.50" y2="21.700000000000003" stroke="#262626" stroke-width="1.1"/>
<line x1="229.50" y1="325.8" x2="229.50" y2="313.5" stroke="#262626" stroke-width="1.1"/>
<line x1="266.50" y1="9.4" x2="266.50" y2="21.700000000000003" stroke="#262626" stroke-width="1.1"/>
<line x1="266.50" y1="325.8" x2="266.50" y2="313.5" stroke="#262626" stroke-width="1.1"/>
<line x1="302.40" y1="9.4" x2="302.40" y2="21.700000000000003" stroke="#262626" stroke-width="1.1"/>
<line x1="302.40" y1="325.8" x2="302.40" y2="313.5" stroke="#262626" stroke-width="1.1"/>
<line x1="339.40" y1="9.4" x2="339.40" y2="21.700000000000003" stroke="#262626" stroke-width="1.1"/>
<line x1="339.40" y1="325.8" x2="339.40" y2="313.5" stroke="#262626" stroke-width="1.1"/>
<line x1="374.20" y1="9.4" x2="374.20" y2="21.700000000000003" stroke="#262626" stroke-width="1.1"/>
<line x1="374.20" y1="325.8" x2="374.20" y2="313.5" stroke="#262626" stroke-width="1.1"/>
<line x1="411.40" y1="9.4" x2="411.40" y2="21.700000000000003" stroke="#262626" stroke-width="1.1"/>
<line x1="411.40" y1="325.8" x2="411.40" y2="313.5" stroke="#262626" stroke-width="1.1"/>
<line x1="448.40" y1="9.4" x2="448.40" y2="21.700000000000003" stroke="#262626" stroke-width="1.1"/>
<line x1="448.40" y1="325.8" x2="448.40" y2="313.5" stroke="#262626" stroke-width="1.1"/>
<line x1="481.90" y1="9.4" x2="481.90" y2="21.700000000000003" stroke="#262626" stroke-width="1.1"/>
<line x1="481.90" y1="325.8" x2="481.90" y2="313.5" stroke="#262626" stroke-width="1.1"/>
<line x1="518.90" y1="9.4" x2="518.90" y2="21.700000000000003" stroke="#262626" stroke-width="1.1"/>
<line x1="518.90" y1="325.8" x2="518.90" y2="313.5" stroke="#262626" stroke-width="1.1"/>
<line x1="552.60" y1="9.4" x2="552.60" y2="21.700000000000003" stroke="#262626" stroke-width="1.1"/>
<line x1="552.60" y1="325.8" x2="552.60" y2="313.5" stroke="#262626" stroke-width="1.1"/>
<line x1="589.50" y1="9.4" x2="589.50" y2="21.700000000000003" stroke="#262626" stroke-width="1.1"/>
<line x1="589.50" y1="325.8" x2="589.50" y2="313.5" stroke="#262626" stroke-width="1.1"/>
<line x1="625.40" y1="9.4" x2="625.40" y2="21.700000000000003" stroke="#262626" stroke-width="1.1"/>
<line x1="625.40" y1="325.8" x2="625.40" y2="313.5" stroke="#262626" stroke-width="1.1"/>
<line x1="662.40" y1="9.4" x2="662.40" y2="21.700000000000003" stroke="#262626" stroke-width="1.1"/>
<line x1="662.40" y1="325.8" x2="662.40" y2="313.5" stroke="#262626" stroke-width="1.1"/>
<line x1="699.40" y1="9.4" x2="699.40" y2="21.700000000000003" stroke="#262626" stroke-width="1.1"/>
<line x1="699.40" y1="325.8" x2="699.40" y2="313.5" stroke="#262626" stroke-width="1.1"/>
<line x1="734.20" y1="9.4" x2="734.20" y2="21.700000000000003" stroke="#262626" stroke-width="1.1"/>
<line x1="734.20" y1="325.8" x2="734.20" y2="313.5" stroke="#262626" stroke-width="1.1"/>
<line x1="771.40" y1="9.4" x2="771.40" y2="21.700000000000003" stroke="#262626" stroke-width="1.1"/>
<line x1="771.40" y1="325.8" x2="771.40" y2="313.5" stroke="#262626" stroke-width="1.1"/>
<line x1="807.40" y1="9.4" x2="807.40" y2="21.700000000000003" stroke="#262626" stroke-width="1.1"/>
<line x1="807.40" y1="325.8" x2="807.40" y2="313.5" stroke="#262626" stroke-width="1.1"/>
<line x1="844.40" y1="9.4" x2="844.40" y2="21.700000000000003" stroke="#262626" stroke-width="1.1"/>
<line x1="844.40" y1="325.8" x2="844.40" y2="313.5" stroke="#262626" stroke-width="1.1"/>
<line x1="881.60" y1="9.4" x2="881.60" y2="21.700000000000003" stroke="#262626" stroke-width="1.1"/>
<line x1="881.60" y1="325.8" x2="881.60" y2="313.5" stroke="#262626" stroke-width="1.1"/>
<line x1="913.70" y1="9.4" x2="913.70" y2="21.700000000000003" stroke="#262626" stroke-width="1.1"/>
<line x1="913.70" y1="325.8" x2="913.70" y2="313.5" stroke="#262626" stroke-width="1.1"/>
<line x1="950.90" y1="9.4" x2="950.90" y2="21.700000000000003" stroke="#262626" stroke-width="1.1"/>
<line x1="950.90" y1="325.8" x2="950.90" y2="313.5" stroke="#262626" stroke-width="1.1"/>
<line x1="986.90" y1="9.4" x2="986.90" y2="21.700000000000003" stroke="#262626" stroke-width="1.1"/>
<line x1="986.90" y1="325.8" x2="986.90" y2="313.5" stroke="#262626" stroke-width="1.1"/>
<line x1="1024.00" y1="9.4" x2="1024.00" y2="21.700000000000003" stroke="#262626" stroke-width="1.1"/>
<line x1="1024.00" y1="325.8" x2="1024.00" y2="313.5" stroke="#262626" stroke-width="1.1"/>
<line x1="1060.00" y1="9.4" x2="1060.00" y2="21.700000000000003" stroke="#262626" stroke-width="1.1"/>
<line x1="1060.00" y1="325.8" x2="1060.00" y2="313.5" stroke="#262626" stroke-width="1.1"/>
<line x1="1094.60" y1="9.4" x2="1094.60" y2="21.700000000000003" stroke="#262626" stroke-width="1.1"/>
<line x1="1094.60" y1="325.8" x2="1094.60" y2="313.5" stroke="#262626" stroke-width="1.1"/>
<line x1="1131.30" y1="9.4" x2="1131.30" y2="21.700000000000003" stroke="#262626" stroke-width="1.1"/>
<line x1="1131.30" y1="325.8" x2="1131.30" y2="313.5" stroke="#262626" stroke-width="1.1"/>
<line x1="1167.40" y1="9.4" x2="1167.40" y2="21.700000000000003" stroke="#262626" stroke-width="1.1"/>
<line x1="1167.40" y1="325.8" x2="1167.40" y2="313.5" stroke="#262626" stroke-width="1.1"/>
<line x1="1204.40" y1="9.4" x2="1204.40" y2="21.700000000000003" stroke="#262626" stroke-width="1.1"/>
<line x1="1204.40" y1="325.8" x2="1204.40" y2="313.5" stroke="#262626" stroke-width="1.1"/>
<line x1="1240.40" y1="9.4" x2="1240.40" y2="21.700000000000003" stroke="#262626" stroke-width="1.1"/>
<line x1="1240.40" y1="325.8" x2="1240.40" y2="313.5" stroke="#262626" stroke-width="1.1"/>
<line x1="102.6" y1="325.80" x2="114.89999999999999" y2="325.80" stroke="#262626" stroke-width="1.1"/>
<line x1="1258.4" y1="325.80" x2="1246.1000000000001" y2="325.80" stroke="#262626" stroke-width="1.1"/>
<line x1="102.6" y1="294.01" x2="108.89999999999999" y2="294.01" stroke="#262626" stroke-width="1.1"/>
<line x1="1258.4" y1="294.01" x2="1252.1000000000001" y2="294.01" stroke="#262626" stroke-width="1.1"/>
<line x1="102.6" y1="275.42" x2="108.89999999999999" y2="275.42" stroke="#262626" stroke-width="1.1"/>
<line x1="1258.4" y1="275.42" x2="1252.1000000000001" y2="275.42" stroke="#262626" stroke-width="1.1"/>
<line x1="102.6" y1="262.22" x2="108.89999999999999" y2="262.22" stroke="#262626" stroke-width="1.1"/>
<line x1="1258.4" y1="262.22" x2="1252.1000000000001" y2="262.22" stroke="#262626" stroke-width="1.1"/>
<line x1="102.6" y1="251.99" x2="108.89999999999999" y2="251.99" stroke="#262626" stroke-width="1.1"/>
<line x1="1258.4" y1="251.99" x2="1252.1000000000001" y2="251.99" stroke="#262626" stroke-width="1.1"/>
<line x1="102.6" y1="243.63" x2="108.89999999999999" y2="243.63" stroke="#262626" stroke-width="1.1"/>
<line x1="1258.4" y1="243.63" x2="1252.1000000000001" y2="243.63" stroke="#262626" stroke-width="1.1"/>
<line x1="102.6" y1="236.56" x2="108.89999999999999" y2="236.56" stroke="#262626" stroke-width="1.1"/>
<line x1="1258.4" y1="236.56" x2="1252.1000000000001" y2="236.56" stroke="#262626" stroke-width="1.1"/>
<line x1="102.6" y1="230.43" x2="108.89999999999999" y2="230.43" stroke="#262626" stroke-width="1.1"/>
<line x1="1258.4" y1="230.43" x2="1252.1000000000001" y2="230.43" stroke="#262626" stroke-width="1.1"/>
<line x1="102.6" y1="225.03" x2="108.89999999999999" y2="225.03" stroke="#262626" stroke-width="1.1"/>
<line x1="1258.4" y1="225.03" x2="1252.1000000000001" y2="225.03" stroke="#262626" stroke-width="1.1"/>
<line x1="102.6" y1="220.20" x2="114.89999999999999" y2="220.20" stroke="#262626" stroke-width="1.1"/>
<line x1="1258.4" y1="220.20" x2="1246.1000000000001" y2="220.20" stroke="#262626" stroke-width="1.1"/>
<line x1="102.6" y1="188.64" x2="108.89999999999999" y2="188.64" stroke="#262626" stroke-width="1.1"/>
<line x1="1258.4" y1="188.64" x2="1252.1000000000001" y2="188.64" stroke="#262626" stroke-width="1.1"/>
<line x1="102.6" y1="170.17" x2="108.89999999999999" y2="170.17" stroke="#262626" stroke-width="1.1"/>
<line x1="1258.4" y1="170.17" x2="1252.1000000000001" y2="170.17" stroke="#262626" stroke-width="1.1"/>
<line x1="102.6" y1="157.07" x2="108.89999999999999" y2="157.07" stroke="#262626" stroke-width="1.1"/>
<line x1="1258.4" y1="157.07" x2="1252.1000000000001" y2="157.07" stroke="#262626" stroke-width="1.1"/>
<line x1="102.6" y1="146.91" x2="108.89999999999999" y2="146.91" stroke="#262626" stroke-width="1.1"/>
<line x1="1258.4" y1="146.91" x2="1252.1000000000001" y2="146.91" stroke="#262626" stroke-width="1.1"/>
<line x1="102.6" y1="138.61" x2="108.89999999999999" y2="138.61" stroke="#262626" stroke-width="1.1"/>
<line x1="1258.4" y1="138.61" x2="1252.1000000000001" y2="138.61" stroke="#262626" stroke-width="1.1"/>
<line x1="102.6" y1="131.59" x2="108.89999999999999" y2="131.59" stroke="#262626" stroke-width="1.1"/>
<line x1="1258.4" y1="131.59" x2="1252.1000000000001" y2="131.59" stroke="#262626" stroke-width="1.1"/>
<line x1="102.6" y1="125.51" x2="108.89999999999999" y2="125.51" stroke="#262626" stroke-width="1.1"/>
<line x1="1258.4" y1="125.51" x2="1252.1000000000001" y2="125.51" stroke="#262626" stroke-width="1.1"/>
<line x1="102.6" y1="120.15" x2="108.89999999999999" y2="120.15" stroke="#262626" stroke-width="1.1"/>
<line x1="1258.4" y1="120.15" x2="1252.1000000000001" y2="120.15" stroke="#262626" stroke-width="1.1"/>
<line x1="102.6" y1="115.35" x2="114.89999999999999" y2="115.35" stroke="#262626" stroke-width="1.1"/>
<line x1="1258.4" y1="115.35" x2="1246.1000000000001" y2="115.35" stroke="#262626" stroke-width="1.1"/>
<line x1="102.6" y1="83.46" x2="108.89999999999999" y2="83.46" stroke="#262626" stroke-width="1.1"/>
<line x1="1258.4" y1="83.46" x2="1252.1000000000001" y2="83.46" stroke="#262626" stroke-width="1.1"/>
<line x1="102.6" y1="64.80" x2="108.89999999999999" y2="64.80" stroke="#262626" stroke-width="1.1"/>
<line x1="1258.4" y1="64.80" x2="1252.1000000000001" y2="64.80" stroke="#262626" stroke-width="1.1"/>
<line x1="102.6" y1="51.56" x2="108.89999999999999" y2="51.56" stroke="#262626" stroke-width="1.1"/>
<line x1="1258.4" y1="51.56" x2="1252.1000000000001" y2="51.56" stroke="#262626" stroke-width="1.1"/>
<line x1="102.6" y1="41.29" x2="108.89999999999999" y2="41.29" stroke="#262626" stroke-width="1.1"/>
<line x1="1258.4" y1="41.29" x2="1252.1000000000001" y2="41.29" stroke="#262626" stroke-width="1.1"/>
<line x1="102.6" y1="32.90" x2="108.89999999999999" y2="32.90" stroke="#262626" stroke-width="1.1"/>
<line x1="1258.4" y1="32.90" x2="1252.1000000000001" y2="32.90" stroke="#262626" stroke-width="1.1"/>
<line x1="102.6" y1="25.81" x2="108.89999999999999" y2="25.81" stroke="#262626" stroke-width="1.1"/>
<line x1="1258.4" y1="25.81" x2="1252.1000000000001" y2="25.81" stroke="#262626" stroke-width="1.1"/>
<line x1="102.6" y1="19.67" x2="108.89999999999999" y2="19.67" stroke="#262626" stroke-width="1.1"/>
<line x1="1258.4" y1="19.67" x2="1252.1000000000001" y2="19.67" stroke="#262626" stroke-width="1.1"/>
<line x1="102.6" y1="14.25" x2="108.89999999999999" y2="14.25" stroke="#262626" stroke-width="1.1"/>
<line x1="1258.4" y1="14.25" x2="1252.1000000000001" y2="14.25" stroke="#262626" stroke-width="1.1"/>
<line x1="102.6" y1="9.40" x2="114.89999999999999" y2="9.40" stroke="#262626" stroke-width="1.1"/>
<line x1="1258.4" y1="9.40" x2="1246.1000000000001" y2="9.40" stroke="#262626" stroke-width="1.1"/>
<rect x="102.6" y="9.4" width="1155.8000000000002" height="316.40000000000003" fill="none" stroke="#262626" stroke-width="1.2"/>
<text transform="translate(91.4,335.00) scale(0.95,1)" text-anchor="end" class="tl">0.1</text>
<text transform="translate(91.4,229.40) scale(0.95,1)" text-anchor="end" class="tl">1.0</text>
<text transform="translate(91.4,124.55) scale(0.95,1)" text-anchor="end" class="tl">10</text>
<text transform="translate(91.4,18.60) scale(0.95,1)" text-anchor="end" class="tl">100</text>
<line x1="120.30" y1="366.1" x2="120.30" y2="680.0" stroke="#e3e3e3" stroke-width="1.3"/>
<line x1="157.50" y1="366.1" x2="157.50" y2="680.0" stroke="#e3e3e3" stroke-width="1.3"/>
<line x1="192.50" y1="366.1" x2="192.50" y2="680.0" stroke="#e3e3e3" stroke-width="1.3"/>
<line x1="229.50" y1="366.1" x2="229.50" y2="680.0" stroke="#e3e3e3" stroke-width="1.3"/>
<line x1="266.50" y1="366.1" x2="266.50" y2="680.0" stroke="#e3e3e3" stroke-width="1.3"/>
<line x1="302.40" y1="366.1" x2="302.40" y2="680.0" stroke="#e3e3e3" stroke-width="1.3"/>
<line x1="339.40" y1="366.1" x2="339.40" y2="680.0" stroke="#e3e3e3" stroke-width="1.3"/>
<line x1="374.20" y1="366.1" x2="374.20" y2="680.0" stroke="#e3e3e3" stroke-width="1.3"/>
<line x1="411.40" y1="366.1" x2="411.40" y2="680.0" stroke="#e3e3e3" stroke-width="1.3"/>
<line x1="448.40" y1="366.1" x2="448.40" y2="680.0" stroke="#e3e3e3" stroke-width="1.3"/>
<line x1="481.90" y1="366.1" x2="481.90" y2="680.0" stroke="#e3e3e3" stroke-width="1.3"/>
<line x1="518.90" y1="366.1" x2="518.90" y2="680.0" stroke="#e3e3e3" stroke-width="1.3"/>
<line x1="552.60" y1="366.1" x2="552.60" y2="680.0" stroke="#e3e3e3" stroke-width="1.3"/>
<line x1="589.50" y1="366.1" x2="589.50" y2="680.0" stroke="#e3e3e3" stroke-width="1.3"/>
<line x1="625.40" y1="366.1" x2="625.40" y2="680.0" stroke="#e3e3e3" stroke-width="1.3"/>
<line x1="662.40" y1="366.1" x2="662.40" y2="680.0" stroke="#e3e3e3" stroke-width="1.3"/>
<line x1="699.40" y1="366.1" x2="699.40" y2="680.0" stroke="#e3e3e3" stroke-width="1.3"/>
<line x1="734.20" y1="366.1" x2="734.20" y2="680.0" stroke="#e3e3e3" stroke-width="1.3"/>
<line x1="771.40" y1="366.1" x2="771.40" y2="680.0" stroke="#e3e3e3" stroke-width="1.3"/>
<line x1="807.40" y1="366.1" x2="807.40" y2="680.0" stroke="#e3e3e3" stroke-width="1.3"/>
<line x1="844.40" y1="366.1" x2="844.40" y2="680.0" stroke="#e3e3e3" stroke-width="1.3"/>
<line x1="881.60" y1="366.1" x2="881.60" y2="680.0" stroke="#e3e3e3" stroke-width="1.3"/>
<line x1="913.70" y1="366.1" x2="913.70" y2="680.0" stroke="#e3e3e3" stroke-width="1.3"/>
<line x1="950.90" y1="366.1" x2="950.90" y2="680.0" stroke="#e3e3e3" stroke-width="1.3"/>
<line x1="986.90" y1="366.1" x2="986.90" y2="680.0" stroke="#e3e3e3" stroke-width="1.3"/>
<line x1="1024.00" y1="366.1" x2="1024.00" y2="680.0" stroke="#e3e3e3" stroke-width="1.3"/>
<line x1="1060.00" y1="366.1" x2="1060.00" y2="680.0" stroke="#e3e3e3" stroke-width="1.3"/>
<line x1="1094.60" y1="366.1" x2="1094.60" y2="680.0" stroke="#e3e3e3" stroke-width="1.3"/>
<line x1="1131.30" y1="366.1" x2="1131.30" y2="680.0" stroke="#e3e3e3" stroke-width="1.3"/>
<line x1="1167.40" y1="366.1" x2="1167.40" y2="680.0" stroke="#e3e3e3" stroke-width="1.3"/>
<line x1="1204.40" y1="366.1" x2="1204.40" y2="680.0" stroke="#e3e3e3" stroke-width="1.3"/>
<line x1="1240.40" y1="366.1" x2="1240.40" y2="680.0" stroke="#e3e3e3" stroke-width="1.3"/>
<line x1="102.6" y1="522.40" x2="1258.4" y2="522.40" stroke="#e3e3e3" stroke-width="1.3"/>
<line x1="192.50" y1="680.0" x2="192.50" y2="366.1" stroke="#808080" stroke-width="2.5" stroke-dasharray="24.8 15.2"/>
<line x1="411.40" y1="680.0" x2="411.40" y2="366.1" stroke="#808080" stroke-width="2.5" stroke-dasharray="19.5 8 4.8 7.7"/>
<line x1="625.40" y1="680.0" x2="625.40" y2="366.1" stroke="#808080" stroke-width="2.5" stroke-dasharray="24.8 15.2"/>
<line x1="844.40" y1="680.0" x2="844.40" y2="366.1" stroke="#808080" stroke-width="2.5" stroke-dasharray="19.5 8 4.8 7.7"/>
<line x1="1060.00" y1="680.0" x2="1060.00" y2="366.1" stroke="#808080" stroke-width="2.5" stroke-dasharray="24.8 15.2"/>
<line x1="102.58" y1="522.40" x2="1258.4" y2="522.40" stroke="#000" stroke-width="1.7" stroke-dasharray="2.4 7.56"/>
<g clip-path="url(#c2)">
<use href="#N" x="694.2" y="489.6"/>
<use href="#N" x="722.0" y="486.4"/>
<use href="#N" x="751.4" y="484.8"/>
<use href="#N" x="740.2" y="491.2"/>
<use href="#N" x="733.9" y="497.5"/>
<use href="#N" x="727.5" y="499.9"/>
<use href="#N" x="710.9" y="500.4"/>
<use href="#N" x="706.1" y="514.2"/>
<use href="#N" x="716.4" y="510.3"/>
<use href="#N" x="759.3" y="501.5"/>
<use href="#N" x="770.4" y="488.8"/>
<use href="#N" x="782.3" y="494.4"/>
<use href="#N" x="786.3" y="496.8"/>
<use href="#N" x="790.3" y="499.1"/>
<use href="#N" x="794.7" y="501.1"/>
<use href="#N" x="799.0" y="503.1"/>
<use href="#N" x="811.7" y="509.5"/>
<use href="#N" x="815.7" y="511.0"/>
<use href="#N" x="819.7" y="512.6"/>
<use href="#N" x="824.4" y="513.8"/>
<use href="#N" x="829.2" y="515.0"/>
<use href="#N" x="835.6" y="555.5"/>
<use href="#N" x="841.9" y="537.3"/>
<use href="#N" x="847.5" y="546.0"/>
<use href="#N" x="859.4" y="570.3"/>
<use href="#N" x="853.0" y="573.0"/>
<use href="#N" x="871.3" y="582.5"/>
<use href="#N" x="864.2" y="591.3"/>
<use href="#N" x="883.2" y="600.0"/>
<use href="#N" x="877.7" y="606.4"/>
<use href="#N" x="888.0" y="603.2"/>
<use href="#N" x="884.0" y="600.2"/>
<use href="#N" x="888.8" y="604.2"/>
<use href="#N" x="877.7" y="608.2"/>
<use href="#N" x="1028.8" y="439.3"/>
<use href="#N" x="1037.5" y="440.4"/>
<use href="#N" x="1024.8" y="448.8"/>
<use href="#N" x="1046.3" y="449.9"/>
<use href="#N" x="1032.0" y="456.8"/>
<use href="#N" x="1043.1" y="455.7"/>
<use href="#N" x="1021.6" y="464.2"/>
<use href="#N" x="1019.3" y="475.0"/>
<use href="#N" x="1001.0" y="484.3"/>
<use href="#N" x="1061.4" y="479.8"/>
<use href="#N" x="1057.4" y="483.0"/>
<use href="#N" x="1085.2" y="486.2"/>
<use href="#N" x="1001.0" y="485.6"/>
<use href="#N" x="1068.5" y="507.9"/>
<use href="#N" x="1071.7" y="496.0"/>
<use href="#N" x="1079.6" y="491.2"/>
<use href="#N" x="1084.4" y="488.0"/>
<use href="#N" x="1086.8" y="493.6"/>
<use href="#N" x="997.0" y="527.7"/>
<use href="#N" x="985.9" y="533.3"/>
<use href="#N" x="990.7" y="535.7"/>
<use href="#N" x="942.2" y="534.1"/>
<use href="#N" x="952.5" y="552.4"/>
<use href="#N" x="978.8" y="561.1"/>
<use href="#N" x="967.6" y="567.4"/>
<use href="#N" x="975.6" y="570.6"/>
<use href="#N" x="936.7" y="573.8"/>
<use href="#N" x="950.2" y="575.4"/>
<use href="#N" x="931.1" y="584.9"/>
<use href="#N" x="957.3" y="591.3"/>
<use href="#N" x="924.7" y="600.8"/>
<use href="#N" x="891.4" y="604.0"/>
<use href="#N" x="902.5" y="605.6"/>
<use href="#N" x="890.6" y="604.2"/>
<use href="#N" x="900.9" y="607.4"/>
<use href="#N" x="906.5" y="605.8"/>
<use href="#N" x="924.7" y="601.0"/>
<use href="#N" x="912.8" y="612.1"/>
<use href="#N" x="918.4" y="613.7"/>
<use href="#N" x="892.2" y="615.3"/>
<use href="#N" x="1145.3" y="477.4"/>
<use href="#N" x="1141.1" y="482.7"/>
<use href="#N" x="1087.4" y="486.5"/>
<use href="#N" x="1087.4" y="488.8"/>
<use href="#N" x="1092.9" y="496.0"/>
<use href="#N" x="1098.5" y="499.9"/>
<use href="#N" x="1106.4" y="488.0"/>
<use href="#N" x="1128.7" y="490.4"/>
<use href="#N" x="1135.0" y="489.6"/>
<use href="#N" x="1140.6" y="484.0"/>
<use href="#N" x="1152.5" y="493.1"/>
<use href="#N" x="1158.8" y="495.2"/>
<use href="#N" x="1171.1" y="515.0"/>
<use href="#N" x="1183.0" y="507.1"/>
<use href="#N" x="1195.1" y="513.4"/>
<use href="#N" x="1206.8" y="521.9"/>
<use href="#N" x="1218.7" y="521.9"/>
<use href="#N" x="1230.6" y="520.6"/>
<use href="#N" x="1242.7" y="521.4"/>
<use href="#N" x="600.2" y="465.8"/>
<use href="#N" x="590.7" y="472.7"/>
<use href="#N" x="597.1" y="477.9"/>
<use href="#N" x="638.4" y="481.7"/>
<use href="#N" x="580.4" y="484.6"/>
<use href="#N" x="602.6" y="486.2"/>
<use href="#N" x="570.8" y="511.0"/>
<use href="#N" x="566.9" y="530.9"/>
<use href="#N" x="575.6" y="490.4"/>
<use href="#N" x="574.0" y="496.0"/>
<use href="#N" x="602.6" y="485.6"/>
<use href="#N" x="636.0" y="486.4"/>
<use href="#N" x="596.3" y="497.5"/>
<use href="#N" x="601.0" y="498.3"/>
<use href="#N" x="605.8" y="499.1"/>
<use href="#N" x="618.5" y="503.9"/>
<use href="#N" x="624.9" y="505.5"/>
<use href="#N" x="688.4" y="494.4"/>
<use href="#N" x="660.6" y="508.7"/>
<use href="#N" x="608.2" y="515.0"/>
<use href="#N" x="607.4" y="521.4"/>
<use href="#N" x="643.1" y="524.6"/>
<use href="#N" x="636.0" y="534.9"/>
<use href="#N" x="669.3" y="530.9"/>
<use href="#N" x="675.7" y="532.2"/>
<use href="#N" x="746.6" y="483.8"/>
<use href="#N" x="753.0" y="484.9"/>
<use href="#N" x="722.0" y="486.2"/>
<use href="#N" x="769.6" y="487.0"/>
<use href="#N" x="694.2" y="487.1"/>
<use href="#T" x="162.1" y="467.1"/>
<use href="#T" x="151.8" y="467.9"/>
<use href="#T" x="159.0" y="474.7"/>
<use href="#T" x="147.8" y="485.4"/>
<use href="#T" x="166.9" y="486.2"/>
<use href="#T" x="147.8" y="485.6"/>
<use href="#T" x="134.3" y="499.9"/>
<use href="#T" x="166.9" y="488.8"/>
<use href="#T" x="168.5" y="522.2"/>
<use href="#T" x="189.9" y="511.0"/>
<use href="#T" x="209.8" y="525.3"/>
<use href="#T" x="214.6" y="515.8"/>
<use href="#T" x="290.0" y="529.0"/>
<use href="#T" x="275.7" y="531.7"/>
<use href="#T" x="251.9" y="535.7"/>
<use href="#T" x="240.0" y="538.1"/>
<use href="#T" x="228.1" y="530.9"/>
<use href="#T" x="221.7" y="538.1"/>
<use href="#T" x="233.6" y="543.3"/>
<use href="#T" x="203.9" y="537.3"/>
<use href="#T" x="197.9" y="548.7"/>
<use href="#T" x="306.9" y="511.8"/>
<use href="#T" x="318.0" y="519.5"/>
<use href="#T" x="388.7" y="537.3"/>
<use href="#T" x="400.6" y="546.8"/>
<use href="#T" x="412.6" y="547.6"/>
<use href="#T" x="424.0" y="554.4"/>
<use href="#T" x="434.0" y="535.7"/>
<use href="#T" x="466.6" y="550.8"/>
<use href="#T" x="472.1" y="538.8"/>
<use href="#T" x="490.4" y="543.6"/>
<use href="#T" x="484.0" y="553.5"/>
<use href="#T" x="461.0" y="563.5"/>
<use href="#T" x="478.2" y="562.7"/>
<use href="#T" x="454.2" y="582.5"/>
<use href="#T" x="508.1" y="530.1"/>
<use href="#T" x="516.0" y="529.8"/>
<use href="#T" x="496.2" y="544.4"/>
<use href="#T" x="501.7" y="544.4"/>
<use href="#T" x="513.7" y="546.0"/>
<use href="#T" x="496.2" y="550.0"/>
<use href="#G" x="147.8" y="457.2"/>
<use href="#G" x="157.4" y="449.3"/>
<use href="#G" x="164.5" y="450.4"/>
<use href="#G" x="152.6" y="458.4"/>
<use href="#G" x="163.7" y="459.5"/>
<use href="#G" x="133.5" y="471.5"/>
<use href="#G" x="155.8" y="471.5"/>
<use href="#G" x="169.3" y="474.7"/>
<use href="#G" x="170.9" y="482.7"/>
<use href="#G" x="695.8" y="511.8"/>
<use href="#G" x="737.9" y="514.2"/>
<use href="#G" x="692.6" y="519.0"/>
<use href="#G" x="702.1" y="517.4"/>
<use href="#G" x="714.0" y="519.8"/>
<use href="#G" x="725.2" y="522.6"/>
<use href="#G" x="708.8" y="532.8"/>
<use href="#G" x="749.8" y="520.1"/>
<use href="#G" x="761.7" y="529.6"/>
<use href="#G" x="785.5" y="523.0"/>
<use href="#G" x="797.4" y="525.8"/>
<use href="#G" x="773.6" y="548.1"/>
<use href="#G" x="821.6" y="560.6"/>
<use href="#G" x="809.8" y="569.5"/>
<use href="#G" x="833.2" y="573.0"/>
<use href="#G" x="845.1" y="576.7"/>
<use href="#G" x="857.0" y="577.8"/>
<use href="#G" x="881.6" y="582.5"/>
<use href="#G" x="886.4" y="585.7"/>
<use href="#G" x="869.7" y="590.5"/>
<use href="#G" x="876.1" y="591.3"/>
<use href="#G" x="1002.1" y="476.3"/>
<use href="#G" x="1030.4" y="484.6"/>
<use href="#G" x="1021.2" y="487.0"/>
<use href="#G" x="1001.0" y="496.3"/>
<use href="#G" x="1020.9" y="488.8"/>
<use href="#G" x="1030.4" y="502.3"/>
<use href="#G" x="1035.1" y="498.3"/>
<use href="#G" x="1032.0" y="485.6"/>
<use href="#G" x="1043.9" y="507.9"/>
<use href="#G" x="1023.2" y="531.7"/>
<use href="#G" x="1023.2" y="525.3"/>
<use href="#G" x="997.0" y="515.8"/>
<use href="#G" x="990.7" y="521.4"/>
<use href="#G" x="993.8" y="530.6"/>
<use href="#G" x="978.0" y="540.4"/>
<use href="#G" x="985.1" y="547.6"/>
<use href="#G" x="911.2" y="553.1"/>
<use href="#G" x="972.4" y="565.1"/>
<use href="#G" x="934.3" y="563.9"/>
<use href="#G" x="904.1" y="565.1"/>
<use href="#G" x="954.1" y="569.8"/>
<use href="#G" x="939.8" y="576.2"/>
<use href="#G" x="968.4" y="573.8"/>
<use href="#G" x="963.7" y="583.3"/>
<use href="#G" x="927.9" y="579.8"/>
<use href="#G" x="922.4" y="585.2"/>
<use href="#G" x="898.5" y="582.1"/>
<use href="#G" x="892.2" y="586.2"/>
<use href="#G" x="944.6" y="588.1"/>
<use href="#G" x="948.6" y="588.1"/>
<use href="#G" x="952.5" y="588.1"/>
<use href="#G" x="960.5" y="587.3"/>
<use href="#G" x="957.6" y="601.6"/>
<use href="#G" x="957.6" y="601.8"/>
<use href="#G" x="133.5" y="494.4"/>
<use href="#G" x="139.9" y="496.8"/>
<use href="#G" x="170.9" y="484.0"/>
<use href="#G" x="180.1" y="492.3"/>
<use href="#G" x="197.9" y="498.3"/>
<use href="#G" x="178.8" y="504.7"/>
<use href="#G" x="173.3" y="500.7"/>
<use href="#G" x="240.8" y="505.5"/>
<use href="#G" x="244.7" y="506.3"/>
<use href="#G" x="220.1" y="514.2"/>
<use href="#G" x="257.4" y="539.6"/>
<use href="#G" x="329.9" y="505.5"/>
<use href="#G" x="341.1" y="515.0"/>
<use href="#G" x="364.9" y="517.4"/>
<use href="#G" x="376.8" y="518.2"/>
<use href="#G" x="388.4" y="513.4"/>
<use href="#G" x="401.8" y="524.9"/>
<use href="#G" x="412.1" y="542.8"/>
<use href="#G" x="424.0" y="548.4"/>
<use href="#G" x="436.1" y="553.9"/>
<use href="#G" x="448.3" y="573.0"/>
<use href="#G" x="453.9" y="593.7"/>
<use href="#G" x="460.2" y="598.4"/>
<use href="#G" x="460.2" y="598.6"/>
<use href="#G" x="478.2" y="630.4"/>
<use href="#G" x="472.1" y="637.2"/>
<use href="#G" x="484.0" y="643.1"/>
<use href="#G" x="490.4" y="645.5"/>
<use href="#G" x="589.1" y="484.6"/>
<use href="#G" x="613.7" y="485.4"/>
<use href="#G" x="572.4" y="514.2"/>
<use href="#G" x="559.7" y="526.9"/>
<use href="#G" x="539.9" y="539.6"/>
<use href="#G" x="524.0" y="552.4"/>
<use href="#G" x="547.8" y="550.3"/>
<use href="#G" x="521.6" y="560.3"/>
<use href="#G" x="513.7" y="577.5"/>
<use href="#G" x="591.5" y="484.8"/>
<use href="#G" x="613.7" y="485.6"/>
<use href="#G" x="593.9" y="492.0"/>
<use href="#G" x="577.2" y="503.9"/>
<use href="#G" x="605.8" y="503.9"/>
<use href="#G" x="623.3" y="493.6"/>
<use href="#G" x="629.6" y="495.2"/>
<use href="#G" x="618.5" y="507.9"/>
<use href="#G" x="644.7" y="503.1"/>
<use href="#G" x="666.9" y="503.9"/>
<use href="#G" x="678.9" y="500.7"/>
<use href="#G" x="635.2" y="515.8"/>
<use href="#G" x="685.2" y="517.4"/>
<use href="#G" x="502.5" y="612.9"/>
<use href="#G" x="508.1" y="619.3"/>
<use href="#Y" x="136.7" y="449.6"/>
<use href="#Y" x="138.0" y="456.0"/>
<use href="#Y" x="238.9" y="477.4"/>
<use href="#Y" x="250.8" y="466.3"/>
<use href="#Y" x="256.7" y="475.8"/>
<use href="#Y" x="268.6" y="472.7"/>
<use href="#Y" x="274.6" y="476.3"/>
<use href="#Y" x="280.8" y="467.9"/>
<use href="#Y" x="286.8" y="448.0"/>
<use href="#Y" x="292.4" y="453.6"/>
<use href="#Y" x="262.7" y="484.9"/>
<use href="#Y" x="695.8" y="497.5"/>
<use href="#Y" x="692.6" y="502.3"/>
<use href="#Y" x="707.7" y="492.8"/>
<use href="#Y" x="718.0" y="492.8"/>
<use href="#Y" x="701.8" y="507.9"/>
<use href="#Y" x="760.1" y="494.4"/>
<use href="#Y" x="772.3" y="495.6"/>
<use href="#Y" x="784.4" y="488.8"/>
<use href="#Y" x="808.1" y="502.0"/>
<use href="#Y" x="820.0" y="515.8"/>
<use href="#Y" x="832.1" y="511.8"/>
<use href="#Y" x="843.8" y="512.6"/>
<use href="#Y" x="856.2" y="545.5"/>
<use href="#Y" x="868.1" y="543.6"/>
<use href="#Y" x="874.2" y="553.9"/>
<use href="#Y" x="886.4" y="555.5"/>
<use href="#Y" x="888.8" y="575.4"/>
<use href="#Y" x="1016.9" y="369.4"/>
<use href="#Y" x="1012.9" y="376.9"/>
<use href="#Y" x="1008.9" y="384.5"/>
<use href="#Y" x="1020.1" y="386.9"/>
<use href="#Y" x="1002.1" y="403.9"/>
<use href="#Y" x="1005.8" y="406.4"/>
<use href="#Y" x="998.6" y="420.2"/>
<use href="#Y" x="994.6" y="426.1"/>
<use href="#Y" x="1024.0" y="425.5"/>
<use href="#Y" x="1027.2" y="434.5"/>
<use href="#Y" x="1031.2" y="463.9"/>
<use href="#Y" x="1064.5" y="449.3"/>
<use href="#Y" x="1058.2" y="458.4"/>
<use href="#Y" x="1069.3" y="459.2"/>
<use href="#Y" x="987.8" y="475.4"/>
<use href="#Y" x="1034.4" y="479.0"/>
<use href="#Y" x="1039.9" y="483.0"/>
<use href="#Y" x="1043.9" y="479.8"/>
<use href="#Y" x="1074.9" y="479.8"/>
<use href="#Y" x="1049.4" y="485.4"/>
<use href="#Y" x="908.9" y="509.5"/>
<use href="#Y" x="932.7" y="507.9"/>
<use href="#Y" x="984.3" y="492.0"/>
<use href="#Y" x="977.2" y="517.4"/>
<use href="#Y" x="1038.3" y="484.8"/>
<use href="#Y" x="1041.5" y="492.8"/>
<use href="#Y" x="1046.3" y="488.0"/>
<use href="#Y" x="1079.6" y="501.0"/>
<use href="#Y" x="1084.4" y="517.4"/>
<use href="#Y" x="1087.6" y="523.0"/>
<use href="#Y" x="939.0" y="523.8"/>
<use href="#Y" x="948.6" y="529.3"/>
<use href="#Y" x="962.9" y="549.7"/>
<use href="#Y" x="974.0" y="555.1"/>
<use href="#Y" x="951.7" y="558.2"/>
<use href="#Y" x="944.6" y="570.3"/>
<use href="#Y" x="970.0" y="579.4"/>
<use href="#Y" x="891.4" y="575.4"/>
<use href="#Y" x="966.5" y="596.0"/>
<use href="#Y" x="916.8" y="604.0"/>
<use href="#Y" x="923.2" y="606.4"/>
<use href="#Y" x="958.9" y="606.4"/>
<use href="#Y" x="889.0" y="555.5"/>
<use href="#Y" x="896.9" y="615.0"/>
<use href="#Y" x="915.2" y="605.8"/>
<use href="#Y" x="921.6" y="603.4"/>
<use href="#Y" x="926.8" y="609.8"/>
<use href="#Y" x="966.8" y="597.5"/>
<use href="#Y" x="958.9" y="608.6"/>
<use href="#Y" x="955.7" y="655.0"/>
<use href="#Y" x="1183.0" y="421.3"/>
<use href="#Y" x="1195.1" y="446.1"/>
<use href="#Y" x="1206.8" y="434.1"/>
<use href="#Y" x="1218.7" y="425.8"/>
<use href="#Y" x="1230.6" y="425.3"/>
<use href="#Y" x="1242.7" y="419.4"/>
<use href="#Y" x="1139.8" y="459.9"/>
<use href="#Y" x="1133.9" y="469.0"/>
<use href="#Y" x="1171.1" y="465.2"/>
<use href="#Y" x="1158.8" y="471.9"/>
<use href="#Y" x="1152.8" y="477.9"/>
<use href="#Y" x="1127.9" y="479.3"/>
<use href="#Y" x="1104.8" y="490.4"/>
<use href="#Y" x="1115.2" y="492.0"/>
<use href="#Y" x="1121.5" y="505.5"/>
<use href="#Y" x="1092.1" y="523.0"/>
<use href="#Y" x="1097.7" y="527.7"/>
<use href="#Y" x="262.7" y="485.6"/>
<use href="#Y" x="244.7" y="495.2"/>
<use href="#Y" x="304.5" y="448.0"/>
<use href="#Y" x="316.4" y="442.5"/>
<use href="#Y" x="328.4" y="448.0"/>
<use href="#Y" x="340.3" y="466.3"/>
<use href="#Y" x="351.9" y="467.9"/>
<use href="#Y" x="363.0" y="476.3"/>
<use href="#Y" x="375.2" y="470.6"/>
<use href="#Y" x="387.1" y="459.2"/>
<use href="#Y" x="399.1" y="506.6"/>
<use href="#Y" x="411.3" y="496.3"/>
<use href="#Y" x="423.4" y="543.3"/>
<use href="#Y" x="434.8" y="541.2"/>
<use href="#Y" x="458.6" y="546.8"/>
<use href="#Y" x="492.8" y="537.3"/>
<use href="#Y" x="489.1" y="549.7"/>
<use href="#Y" x="447.2" y="558.2"/>
<use href="#Y" x="465.0" y="573.8"/>
<use href="#Y" x="476.9" y="576.7"/>
<use href="#Y" x="483.2" y="571.9"/>
<use href="#Y" x="471.0" y="589.7"/>
<use href="#Y" x="612.1" y="425.5"/>
<use href="#Y" x="618.5" y="427.4"/>
<use href="#Y" x="624.1" y="430.9"/>
<use href="#Y" x="600.2" y="444.1"/>
<use href="#Y" x="606.1" y="444.9"/>
<use href="#Y" x="570.0" y="465.5"/>
<use href="#Y" x="576.4" y="463.1"/>
<use href="#Y" x="585.1" y="463.9"/>
<use href="#Y" x="593.9" y="462.3"/>
<use href="#Y" x="564.5" y="477.9"/>
<use href="#Y" x="629.6" y="487.0"/>
<use href="#Y" x="508.9" y="520.6"/>
<use href="#Y" x="534.3" y="524.6"/>
<use href="#Y" x="558.4" y="503.1"/>
<use href="#Y" x="548.6" y="514.2"/>
<use href="#Y" x="496.2" y="537.3"/>
<use href="#Y" x="505.7" y="535.7"/>
<use href="#Y" x="524.0" y="538.8"/>
<use href="#Y" x="542.2" y="546.8"/>
<use href="#Y" x="629.9" y="488.8"/>
<use href="#Y" x="636.0" y="507.9"/>
<use href="#Y" x="683.6" y="490.4"/>
<use href="#Y" x="689.2" y="501.5"/>
<use href="#Y" x="677.3" y="509.5"/>
<use href="#Y" x="642.3" y="517.4"/>
<use href="#Y" x="646.3" y="518.6"/>
<use href="#Y" x="650.3" y="519.8"/>
<use href="#Y" x="658.2" y="513.4"/>
<use href="#Y" x="653.4" y="525.3"/>
<use href="#Y" x="796.2" y="461.5"/>
<use href="#Y" x="724.4" y="473.1"/>
<use href="#Y" x="713.2" y="480.6"/>
<use href="#Y" x="736.3" y="481.4"/>
<use href="#Y" x="748.5" y="476.3"/>
<use href="#Y" x="784.4" y="487.0"/>
<use href="#S" x="143.9" y="463.9"/>
<use href="#S" x="143.1" y="471.9"/>
<use href="#S" x="144.7" y="479.0"/>
<use href="#S" x="138.3" y="479.8"/>
<use href="#S" x="151.0" y="493.6"/>
<use href="#S" x="165.3" y="495.2"/>
<use href="#S" x="151.0" y="502.3"/>
<use href="#S" x="155.8" y="503.5"/>
<use href="#S" x="160.5" y="504.7"/>
<use href="#S" x="164.5" y="505.9"/>
<use href="#S" x="168.5" y="507.1"/>
<use href="#S" x="172.5" y="509.5"/>
<use href="#S" x="176.4" y="511.8"/>
<use href="#S" x="155.8" y="513.4"/>
<use href="#S" x="157.4" y="519.8"/>
<use href="#S" x="165.3" y="515.0"/>
<use href="#S" x="169.3" y="515.0"/>
<use href="#S" x="173.3" y="515.0"/>
<use href="#S" x="176.4" y="517.4"/>
<use href="#S" x="179.6" y="519.8"/>
<use href="#S" x="179.6" y="525.3"/>
<use href="#S" x="178.8" y="529.7"/>
<use href="#S" x="178.0" y="534.1"/>
<use href="#S" x="186.0" y="521.4"/>
<use href="#S" x="192.3" y="523.0"/>
<use href="#S" x="193.9" y="519.0"/>
<use href="#S" x="195.5" y="515.0"/>
<use href="#S" x="198.7" y="508.7"/>
<use href="#S" x="203.4" y="506.3"/>
<use href="#S" x="208.2" y="503.9"/>
<use href="#S" x="213.0" y="504.7"/>
<use href="#S" x="217.7" y="505.5"/>
<use href="#S" x="222.5" y="505.5"/>
<use href="#S" x="227.3" y="505.5"/>
<use href="#S" x="233.6" y="504.7"/>
<use href="#S" x="206.6" y="512.6"/>
<use href="#S" x="211.4" y="512.2"/>
<use href="#S" x="216.1" y="511.8"/>
<use href="#S" x="220.1" y="512.2"/>
<use href="#S" x="224.1" y="512.6"/>
<use href="#S" x="217.7" y="521.4"/>
<use href="#S" x="224.1" y="520.6"/>
<use href="#S" x="294.0" y="507.1"/>
<use href="#S" x="240.0" y="520.6"/>
<use href="#S" x="244.7" y="519.0"/>
<use href="#S" x="249.5" y="517.4"/>
<use href="#S" x="255.9" y="515.0"/>
<use href="#S" x="262.2" y="516.6"/>
<use href="#S" x="276.5" y="513.4"/>
<use href="#S" x="280.2" y="516.1"/>
<use href="#S" x="283.9" y="518.7"/>
<use href="#S" x="287.6" y="521.4"/>
<use href="#S" x="294.0" y="521.4"/>
<use href="#S" x="243.1" y="534.1"/>
<use href="#S" x="247.9" y="531.7"/>
<use href="#S" x="252.7" y="529.3"/>
<use href="#S" x="266.2" y="535.7"/>
<use href="#S" x="296.6" y="507.1"/>
<use href="#S" x="298.2" y="512.6"/>
<use href="#S" x="310.9" y="505.5"/>
<use href="#S" x="320.4" y="508.7"/>
<use href="#S" x="339.2" y="517.1"/>
<use href="#S" x="296.6" y="521.4"/>
<use href="#S" x="303.7" y="520.6"/>
<use href="#S" x="309.7" y="522.2"/>
<use href="#S" x="315.7" y="523.8"/>
<use href="#S" x="326.8" y="522.2"/>
<use href="#S" x="333.1" y="526.1"/>
<use href="#S" x="352.2" y="521.1"/>
<use href="#S" x="357.7" y="530.9"/>
<use href="#S" x="363.3" y="512.6"/>
<use href="#S" x="392.7" y="525.3"/>
<use href="#S" x="368.9" y="544.4"/>
<use href="#S" x="381.6" y="542.8"/>
<use href="#S" x="373.6" y="539.2"/>
<use href="#S" x="440.8" y="537.3"/>
<use href="#S" x="446.7" y="546.0"/>
<use href="#S" x="399.1" y="553.9"/>
<use href="#S" x="403.8" y="561.1"/>
<use href="#S" x="417.3" y="565.9"/>
<use href="#S" x="411.0" y="570.9"/>
<use href="#S" x="435.1" y="560.3"/>
<use href="#S" x="453.1" y="562.7"/>
<use href="#S" x="492.8" y="568.2"/>
<use href="#S" x="458.9" y="575.4"/>
<use href="#S" x="426.1" y="582.1"/>
<use href="#S" x="471.0" y="593.7"/>
<use href="#S" x="481.7" y="602.7"/>
<use href="#S" x="493.6" y="584.9"/>
<use href="#S" x="481.7" y="602.6"/>
<use href="#S" x="464.2" y="612.9"/>
<use href="#S" x="483.2" y="612.1"/>
<use href="#S" x="490.4" y="619.3"/>
<use href="#S" x="492.0" y="615.3"/>
<use href="#S" x="472.9" y="634.4"/>
<use href="#S" x="548.6" y="472.7"/>
<use href="#S" x="558.1" y="473.4"/>
<use href="#S" x="553.4" y="479.8"/>
<use href="#S" x="535.9" y="483.8"/>
<use href="#S" x="543.8" y="485.4"/>
<use href="#S" x="540.7" y="487.2"/>
<use href="#S" x="546.2" y="486.4"/>
<use href="#S" x="551.8" y="485.6"/>
<use href="#S" x="537.5" y="489.6"/>
<use href="#S" x="528.7" y="501.5"/>
<use href="#S" x="531.9" y="503.9"/>
<use href="#S" x="543.0" y="507.9"/>
<use href="#S" x="542.2" y="513.4"/>
<use href="#S" x="518.4" y="514.2"/>
<use href="#S" x="522.4" y="515.4"/>
<use href="#S" x="526.4" y="516.6"/>
<use href="#S" x="516.8" y="521.4"/>
<use href="#S" x="521.6" y="523.0"/>
<use href="#S" x="526.4" y="524.6"/>
<use href="#S" x="531.1" y="521.4"/>
<use href="#S" x="521.6" y="530.9"/>
<use href="#S" x="512.9" y="537.3"/>
<use href="#S" x="510.5" y="550.8"/>
<use href="#S" x="497.0" y="568.2"/>
<use href="#S" x="502.5" y="581.7"/>
<use href="#S" x="505.7" y="584.9"/>
<use href="#S" x="508.9" y="588.1"/>
<use href="#S" x="494.6" y="616.9"/>
<use href="#S" x="142.0" y="464.2"/>
<use href="#S" x="145.0" y="472.2"/>
<use href="#S" x="141.0" y="479.2"/>
<use href="#S" x="152.0" y="496.2"/>
<use href="#S" x="163.0" y="495.2"/>
<use href="#S" x="157.0" y="504.2"/>
<use href="#S" x="170.0" y="504.2"/>
<use href="#S" x="165.0" y="512.2"/>
<use href="#S" x="178.0" y="511.2"/>
<use href="#S" x="173.0" y="518.2"/>
<use href="#S" x="183.0" y="519.2"/>
<use href="#S" x="150.0" y="506.2"/>
<use href="#P" x="136.7" y="485.4"/>
<use href="#P" x="725.9" y="489.9"/>
<use href="#P" x="719.6" y="510.6"/>
<use href="#P" x="737.9" y="502.6"/>
<use href="#P" x="749.8" y="503.9"/>
<use href="#P" x="756.1" y="499.9"/>
<use href="#P" x="768.0" y="501.5"/>
<use href="#P" x="761.7" y="511.5"/>
<use href="#P" x="697.4" y="525.3"/>
<use href="#P" x="702.1" y="524.9"/>
<use href="#P" x="706.9" y="524.6"/>
<use href="#P" x="714.0" y="526.1"/>
<use href="#P" x="693.4" y="530.9"/>
<use href="#P" x="773.6" y="523.3"/>
<use href="#P" x="780.0" y="538.8"/>
<use href="#P" x="784.7" y="538.8"/>
<use href="#P" x="789.5" y="538.8"/>
<use href="#P" x="794.3" y="536.5"/>
<use href="#P" x="799.0" y="534.1"/>
<use href="#P" x="803.8" y="536.1"/>
<use href="#P" x="808.6" y="538.1"/>
<use href="#P" x="812.5" y="536.9"/>
<use href="#P" x="816.5" y="535.7"/>
<use href="#P" x="822.9" y="538.8"/>
<use href="#P" x="827.6" y="546.0"/>
<use href="#P" x="839.5" y="550.8"/>
<use href="#P" x="851.4" y="533.8"/>
<use href="#P" x="863.4" y="534.9"/>
<use href="#P" x="875.3" y="538.8"/>
<use href="#P" x="880.8" y="562.2"/>
<use href="#P" x="887.2" y="525.3"/>
<use href="#P" x="993.1" y="436.9"/>
<use href="#P" x="992.3" y="443.3"/>
<use href="#P" x="995.4" y="445.6"/>
<use href="#P" x="998.6" y="448.0"/>
<use href="#P" x="979.5" y="459.2"/>
<use href="#P" x="982.7" y="461.5"/>
<use href="#P" x="985.9" y="463.9"/>
<use href="#P" x="984.3" y="467.1"/>
<use href="#P" x="993.8" y="457.6"/>
<use href="#P" x="998.6" y="456.8"/>
<use href="#P" x="1003.4" y="456.0"/>
<use href="#P" x="1008.1" y="459.2"/>
<use href="#P" x="1009.7" y="465.5"/>
<use href="#P" x="1011.3" y="471.9"/>
<use href="#P" x="990.7" y="463.9"/>
<use href="#P" x="995.4" y="463.9"/>
<use href="#P" x="1000.2" y="463.9"/>
<use href="#P" x="1009.7" y="476.6"/>
<use href="#P" x="1012.9" y="483.0"/>
<use href="#P" x="1050.2" y="476.6"/>
<use href="#P" x="1054.2" y="486.2"/>
<use href="#P" x="968.4" y="495.2"/>
<use href="#P" x="972.0" y="494.0"/>
<use href="#P" x="975.6" y="492.8"/>
<use href="#P" x="972.4" y="507.9"/>
<use href="#P" x="1012.9" y="485.6"/>
<use href="#P" x="1016.1" y="491.2"/>
<use href="#P" x="1019.3" y="497.5"/>
<use href="#P" x="1020.9" y="503.1"/>
<use href="#P" x="1053.4" y="488.8"/>
<use href="#P" x="1047.1" y="498.3"/>
<use href="#P" x="1052.2" y="498.7"/>
<use href="#P" x="1057.4" y="499.1"/>
<use href="#P" x="1061.0" y="500.3"/>
<use href="#P" x="1064.5" y="501.5"/>
<use href="#P" x="1076.5" y="509.5"/>
<use href="#P" x="1080.4" y="509.9"/>
<use href="#P" x="1084.4" y="510.3"/>
<use href="#P" x="1086.0" y="515.0"/>
<use href="#P" x="1061.4" y="519.8"/>
<use href="#P" x="1065.7" y="518.2"/>
<use href="#P" x="1070.1" y="516.6"/>
<use href="#P" x="1074.9" y="519.4"/>
<use href="#P" x="1079.6" y="522.2"/>
<use href="#P" x="1024.0" y="515.0"/>
<use href="#P" x="1027.2" y="519.0"/>
<use href="#P" x="1032.0" y="523.0"/>
<use href="#P" x="1036.7" y="527.7"/>
<use href="#P" x="1041.5" y="515.0"/>
<use href="#P" x="1043.1" y="511.8"/>
<use href="#P" x="1035.1" y="534.1"/>
<use href="#P" x="962.1" y="529.3"/>
<use href="#P" x="958.9" y="534.1"/>
<use href="#P" x="965.3" y="531.7"/>
<use href="#P" x="890.6" y="526.1"/>
<use href="#P" x="893.0" y="530.9"/>
<use href="#P" x="898.5" y="538.8"/>
<use href="#P" x="901.7" y="542.0"/>
<use href="#P" x="904.9" y="545.2"/>
<use href="#P" x="910.0" y="544.8"/>
<use href="#P" x="915.2" y="544.4"/>
<use href="#P" x="918.0" y="548.4"/>
<use href="#P" x="920.8" y="552.4"/>
<use href="#P" x="952.5" y="542.0"/>
<use href="#P" x="943.0" y="548.4"/>
<use href="#P" x="939.8" y="553.1"/>
<use href="#P" x="947.0" y="565.1"/>
<use href="#P" x="1104.8" y="495.2"/>
<use href="#P" x="1108.8" y="497.5"/>
<use href="#P" x="1112.8" y="499.9"/>
<use href="#P" x="1116.7" y="500.3"/>
<use href="#P" x="1120.7" y="500.7"/>
<use href="#P" x="1100.1" y="506.3"/>
<use href="#P" x="1092.1" y="508.7"/>
<use href="#P" x="1128.7" y="511.0"/>
<use href="#P" x="1135.0" y="512.6"/>
<use href="#P" x="1143.0" y="499.1"/>
<use href="#P" x="1147.7" y="500.7"/>
<use href="#P" x="1158.8" y="511.5"/>
<use href="#P" x="1171.1" y="511.5"/>
<use href="#P" x="1182.7" y="511.5"/>
<use href="#P" x="1195.1" y="507.9"/>
<use href="#P" x="1206.8" y="513.8"/>
<use href="#P" x="1218.7" y="507.9"/>
<use href="#P" x="1230.6" y="508.7"/>
<use href="#P" x="1242.7" y="513.4"/>
<use href="#P" x="137.5" y="488.0"/>
<use href="#P" x="228.1" y="496.0"/>
<use href="#P" x="257.8" y="507.1"/>
<use href="#P" x="246.0" y="511.8"/>
<use href="#P" x="233.6" y="519.0"/>
<use href="#P" x="240.0" y="527.7"/>
<use href="#P" x="251.9" y="522.2"/>
<use href="#P" x="263.8" y="528.5"/>
<use href="#P" x="270.2" y="515.8"/>
<use href="#P" x="276.5" y="523.8"/>
<use href="#P" x="282.1" y="529.3"/>
<use href="#P" x="287.6" y="511.8"/>
<use href="#P" x="294.0" y="500.4"/>
<use href="#P" x="296.6" y="499.9"/>
<use href="#P" x="305.8" y="505.2"/>
<use href="#P" x="318.0" y="513.4"/>
<use href="#P" x="329.9" y="512.2"/>
<use href="#P" x="341.9" y="529.3"/>
<use href="#P" x="353.0" y="529.0"/>
<use href="#P" x="388.7" y="518.2"/>
<use href="#P" x="400.2" y="529.6"/>
<use href="#P" x="364.6" y="536.5"/>
<use href="#P" x="376.8" y="533.3"/>
<use href="#P" x="412.2" y="561.1"/>
<use href="#P" x="424.5" y="572.5"/>
<use href="#P" x="436.1" y="570.3"/>
<use href="#P" x="490.4" y="594.4"/>
<use href="#P" x="448.3" y="608.0"/>
<use href="#P" x="492.8" y="605.6"/>
<use href="#P" x="448.3" y="610.2"/>
<use href="#P" x="453.9" y="615.0"/>
<use href="#P" x="471.6" y="612.1"/>
<use href="#P" x="477.7" y="619.3"/>
<use href="#P" x="484.0" y="618.5"/>
<use href="#P" x="492.8" y="606.6"/>
<use href="#P" x="583.5" y="485.4"/>
<use href="#P" x="559.4" y="509.5"/>
<use href="#P" x="554.2" y="519.0"/>
<use href="#P" x="566.1" y="519.0"/>
<use href="#P" x="577.2" y="520.6"/>
<use href="#P" x="570.8" y="523.8"/>
<use href="#P" x="542.2" y="525.3"/>
<use href="#P" x="548.6" y="526.1"/>
<use href="#P" x="525.6" y="543.6"/>
<use href="#P" x="531.1" y="551.6"/>
<use href="#P" x="536.7" y="548.4"/>
<use href="#P" x="513.7" y="558.2"/>
<use href="#P" x="520.0" y="573.0"/>
<use href="#P" x="501.7" y="591.3"/>
<use href="#P" x="508.1" y="597.6"/>
<use href="#P" x="497.0" y="604.8"/>
<use href="#P" x="494.6" y="594.4"/>
<use href="#P" x="583.5" y="486.4"/>
<use href="#P" x="601.0" y="490.4"/>
<use href="#P" x="607.4" y="493.6"/>
<use href="#P" x="589.9" y="504.7"/>
<use href="#P" x="596.3" y="507.1"/>
<use href="#P" x="632.8" y="501.5"/>
<use href="#P" x="637.6" y="499.1"/>
<use href="#P" x="655.0" y="503.1"/>
<use href="#P" x="666.9" y="511.0"/>
<use href="#P" x="643.9" y="511.8"/>
<use href="#P" x="650.3" y="514.2"/>
<use href="#P" x="618.5" y="516.6"/>
<use href="#P" x="616.1" y="520.2"/>
<use href="#P" x="613.7" y="523.8"/>
<use href="#P" x="624.9" y="523.8"/>
<use href="#P" x="661.4" y="519.0"/>
<use href="#P" x="666.9" y="518.2"/>
<use href="#P" x="672.5" y="517.4"/>
<use href="#P" x="678.9" y="525.3"/>
<use href="#P" x="683.6" y="525.7"/>
<use href="#P" x="688.4" y="526.1"/>
<use href="#P" x="690.0" y="530.9"/>
<use href="#P" x="508.1" y="598.6"/>
<use href="#P" x="496.2" y="605.8"/>
</g>
<line x1="120.30" y1="366.1" x2="120.30" y2="378.40000000000003" stroke="#262626" stroke-width="1.1"/>
<line x1="120.30" y1="680.0" x2="120.30" y2="667.7" stroke="#262626" stroke-width="1.1"/>
<line x1="157.50" y1="366.1" x2="157.50" y2="378.40000000000003" stroke="#262626" stroke-width="1.1"/>
<line x1="157.50" y1="680.0" x2="157.50" y2="667.7" stroke="#262626" stroke-width="1.1"/>
<line x1="192.50" y1="366.1" x2="192.50" y2="378.40000000000003" stroke="#262626" stroke-width="1.1"/>
<line x1="192.50" y1="680.0" x2="192.50" y2="667.7" stroke="#262626" stroke-width="1.1"/>
<line x1="229.50" y1="366.1" x2="229.50" y2="378.40000000000003" stroke="#262626" stroke-width="1.1"/>
<line x1="229.50" y1="680.0" x2="229.50" y2="667.7" stroke="#262626" stroke-width="1.1"/>
<line x1="266.50" y1="366.1" x2="266.50" y2="378.40000000000003" stroke="#262626" stroke-width="1.1"/>
<line x1="266.50" y1="680.0" x2="266.50" y2="667.7" stroke="#262626" stroke-width="1.1"/>
<line x1="302.40" y1="366.1" x2="302.40" y2="378.40000000000003" stroke="#262626" stroke-width="1.1"/>
<line x1="302.40" y1="680.0" x2="302.40" y2="667.7" stroke="#262626" stroke-width="1.1"/>
<line x1="339.40" y1="366.1" x2="339.40" y2="378.40000000000003" stroke="#262626" stroke-width="1.1"/>
<line x1="339.40" y1="680.0" x2="339.40" y2="667.7" stroke="#262626" stroke-width="1.1"/>
<line x1="374.20" y1="366.1" x2="374.20" y2="378.40000000000003" stroke="#262626" stroke-width="1.1"/>
<line x1="374.20" y1="680.0" x2="374.20" y2="667.7" stroke="#262626" stroke-width="1.1"/>
<line x1="411.40" y1="366.1" x2="411.40" y2="378.40000000000003" stroke="#262626" stroke-width="1.1"/>
<line x1="411.40" y1="680.0" x2="411.40" y2="667.7" stroke="#262626" stroke-width="1.1"/>
<line x1="448.40" y1="366.1" x2="448.40" y2="378.40000000000003" stroke="#262626" stroke-width="1.1"/>
<line x1="448.40" y1="680.0" x2="448.40" y2="667.7" stroke="#262626" stroke-width="1.1"/>
<line x1="481.90" y1="366.1" x2="481.90" y2="378.40000000000003" stroke="#262626" stroke-width="1.1"/>
<line x1="481.90" y1="680.0" x2="481.90" y2="667.7" stroke="#262626" stroke-width="1.1"/>
<line x1="518.90" y1="366.1" x2="518.90" y2="378.40000000000003" stroke="#262626" stroke-width="1.1"/>
<line x1="518.90" y1="680.0" x2="518.90" y2="667.7" stroke="#262626" stroke-width="1.1"/>
<line x1="552.60" y1="366.1" x2="552.60" y2="378.40000000000003" stroke="#262626" stroke-width="1.1"/>
<line x1="552.60" y1="680.0" x2="552.60" y2="667.7" stroke="#262626" stroke-width="1.1"/>
<line x1="589.50" y1="366.1" x2="589.50" y2="378.40000000000003" stroke="#262626" stroke-width="1.1"/>
<line x1="589.50" y1="680.0" x2="589.50" y2="667.7" stroke="#262626" stroke-width="1.1"/>
<line x1="625.40" y1="366.1" x2="625.40" y2="378.40000000000003" stroke="#262626" stroke-width="1.1"/>
<line x1="625.40" y1="680.0" x2="625.40" y2="667.7" stroke="#262626" stroke-width="1.1"/>
<line x1="662.40" y1="366.1" x2="662.40" y2="378.40000000000003" stroke="#262626" stroke-width="1.1"/>
<line x1="662.40" y1="680.0" x2="662.40" y2="667.7" stroke="#262626" stroke-width="1.1"/>
<line x1="699.40" y1="366.1" x2="699.40" y2="378.40000000000003" stroke="#262626" stroke-width="1.1"/>
<line x1="699.40" y1="680.0" x2="699.40" y2="667.7" stroke="#262626" stroke-width="1.1"/>
<line x1="734.20" y1="366.1" x2="734.20" y2="378.40000000000003" stroke="#262626" stroke-width="1.1"/>
<line x1="734.20" y1="680.0" x2="734.20" y2="667.7" stroke="#262626" stroke-width="1.1"/>
<line x1="771.40" y1="366.1" x2="771.40" y2="378.40000000000003" stroke="#262626" stroke-width="1.1"/>
<line x1="771.40" y1="680.0" x2="771.40" y2="667.7" stroke="#262626" stroke-width="1.1"/>
<line x1="807.40" y1="366.1" x2="807.40" y2="378.40000000000003" stroke="#262626" stroke-width="1.1"/>
<line x1="807.40" y1="680.0" x2="807.40" y2="667.7" stroke="#262626" stroke-width="1.1"/>
<line x1="844.40" y1="366.1" x2="844.40" y2="378.40000000000003" stroke="#262626" stroke-width="1.1"/>
<line x1="844.40" y1="680.0" x2="844.40" y2="667.7" stroke="#262626" stroke-width="1.1"/>
<line x1="881.60" y1="366.1" x2="881.60" y2="378.40000000000003" stroke="#262626" stroke-width="1.1"/>
<line x1="881.60" y1="680.0" x2="881.60" y2="667.7" stroke="#262626" stroke-width="1.1"/>
<line x1="913.70" y1="366.1" x2="913.70" y2="378.40000000000003" stroke="#262626" stroke-width="1.1"/>
<line x1="913.70" y1="680.0" x2="913.70" y2="667.7" stroke="#262626" stroke-width="1.1"/>
<line x1="950.90" y1="366.1" x2="950.90" y2="378.40000000000003" stroke="#262626" stroke-width="1.1"/>
<line x1="950.90" y1="680.0" x2="950.90" y2="667.7" stroke="#262626" stroke-width="1.1"/>
<line x1="986.90" y1="366.1" x2="986.90" y2="378.40000000000003" stroke="#262626" stroke-width="1.1"/>
<line x1="986.90" y1="680.0" x2="986.90" y2="667.7" stroke="#262626" stroke-width="1.1"/>
<line x1="1024.00" y1="366.1" x2="1024.00" y2="378.40000000000003" stroke="#262626" stroke-width="1.1"/>
<line x1="1024.00" y1="680.0" x2="1024.00" y2="667.7" stroke="#262626" stroke-width="1.1"/>
<line x1="1060.00" y1="366.1" x2="1060.00" y2="378.40000000000003" stroke="#262626" stroke-width="1.1"/>
<line x1="1060.00" y1="680.0" x2="1060.00" y2="667.7" stroke="#262626" stroke-width="1.1"/>
<line x1="1094.60" y1="366.1" x2="1094.60" y2="378.40000000000003" stroke="#262626" stroke-width="1.1"/>
<line x1="1094.60" y1="680.0" x2="1094.60" y2="667.7" stroke="#262626" stroke-width="1.1"/>
<line x1="1131.30" y1="366.1" x2="1131.30" y2="378.40000000000003" stroke="#262626" stroke-width="1.1"/>
<line x1="1131.30" y1="680.0" x2="1131.30" y2="667.7" stroke="#262626" stroke-width="1.1"/>
<line x1="1167.40" y1="366.1" x2="1167.40" y2="378.40000000000003" stroke="#262626" stroke-width="1.1"/>
<line x1="1167.40" y1="680.0" x2="1167.40" y2="667.7" stroke="#262626" stroke-width="1.1"/>
<line x1="1204.40" y1="366.1" x2="1204.40" y2="378.40000000000003" stroke="#262626" stroke-width="1.1"/>
<line x1="1204.40" y1="680.0" x2="1204.40" y2="667.7" stroke="#262626" stroke-width="1.1"/>
<line x1="1240.40" y1="366.1" x2="1240.40" y2="378.40000000000003" stroke="#262626" stroke-width="1.1"/>
<line x1="1240.40" y1="680.0" x2="1240.40" y2="667.7" stroke="#262626" stroke-width="1.1"/>
<line x1="102.6" y1="680.00" x2="114.89999999999999" y2="680.00" stroke="#262626" stroke-width="1.1"/>
<line x1="1258.4" y1="680.00" x2="1246.1000000000001" y2="680.00" stroke="#262626" stroke-width="1.1"/>
<line x1="102.6" y1="632.56" x2="108.89999999999999" y2="632.56" stroke="#262626" stroke-width="1.1"/>
<line x1="1258.4" y1="632.56" x2="1252.1000000000001" y2="632.56" stroke="#262626" stroke-width="1.1"/>
<line x1="102.6" y1="604.81" x2="108.89999999999999" y2="604.81" stroke="#262626" stroke-width="1.1"/>
<line x1="1258.4" y1="604.81" x2="1252.1000000000001" y2="604.81" stroke="#262626" stroke-width="1.1"/>
<line x1="102.6" y1="585.12" x2="108.89999999999999" y2="585.12" stroke="#262626" stroke-width="1.1"/>
<line x1="1258.4" y1="585.12" x2="1252.1000000000001" y2="585.12" stroke="#262626" stroke-width="1.1"/>
<line x1="102.6" y1="569.84" x2="108.89999999999999" y2="569.84" stroke="#262626" stroke-width="1.1"/>
<line x1="1258.4" y1="569.84" x2="1252.1000000000001" y2="569.84" stroke="#262626" stroke-width="1.1"/>
<line x1="102.6" y1="557.36" x2="108.89999999999999" y2="557.36" stroke="#262626" stroke-width="1.1"/>
<line x1="1258.4" y1="557.36" x2="1252.1000000000001" y2="557.36" stroke="#262626" stroke-width="1.1"/>
<line x1="102.6" y1="546.81" x2="108.89999999999999" y2="546.81" stroke="#262626" stroke-width="1.1"/>
<line x1="1258.4" y1="546.81" x2="1252.1000000000001" y2="546.81" stroke="#262626" stroke-width="1.1"/>
<line x1="102.6" y1="537.67" x2="108.89999999999999" y2="537.67" stroke="#262626" stroke-width="1.1"/>
<line x1="1258.4" y1="537.67" x2="1252.1000000000001" y2="537.67" stroke="#262626" stroke-width="1.1"/>
<line x1="102.6" y1="529.61" x2="108.89999999999999" y2="529.61" stroke="#262626" stroke-width="1.1"/>
<line x1="1258.4" y1="529.61" x2="1252.1000000000001" y2="529.61" stroke="#262626" stroke-width="1.1"/>
<line x1="102.6" y1="522.40" x2="114.89999999999999" y2="522.40" stroke="#262626" stroke-width="1.1"/>
<line x1="1258.4" y1="522.40" x2="1246.1000000000001" y2="522.40" stroke="#262626" stroke-width="1.1"/>
<line x1="102.6" y1="475.35" x2="108.89999999999999" y2="475.35" stroke="#262626" stroke-width="1.1"/>
<line x1="1258.4" y1="475.35" x2="1252.1000000000001" y2="475.35" stroke="#262626" stroke-width="1.1"/>
<line x1="102.6" y1="447.83" x2="108.89999999999999" y2="447.83" stroke="#262626" stroke-width="1.1"/>
<line x1="1258.4" y1="447.83" x2="1252.1000000000001" y2="447.83" stroke="#262626" stroke-width="1.1"/>
<line x1="102.6" y1="428.30" x2="108.89999999999999" y2="428.30" stroke="#262626" stroke-width="1.1"/>
<line x1="1258.4" y1="428.30" x2="1252.1000000000001" y2="428.30" stroke="#262626" stroke-width="1.1"/>
<line x1="102.6" y1="413.15" x2="108.89999999999999" y2="413.15" stroke="#262626" stroke-width="1.1"/>
<line x1="1258.4" y1="413.15" x2="1252.1000000000001" y2="413.15" stroke="#262626" stroke-width="1.1"/>
<line x1="102.6" y1="400.77" x2="108.89999999999999" y2="400.77" stroke="#262626" stroke-width="1.1"/>
<line x1="1258.4" y1="400.77" x2="1252.1000000000001" y2="400.77" stroke="#262626" stroke-width="1.1"/>
<line x1="102.6" y1="390.31" x2="108.89999999999999" y2="390.31" stroke="#262626" stroke-width="1.1"/>
<line x1="1258.4" y1="390.31" x2="1252.1000000000001" y2="390.31" stroke="#262626" stroke-width="1.1"/>
<line x1="102.6" y1="381.25" x2="108.89999999999999" y2="381.25" stroke="#262626" stroke-width="1.1"/>
<line x1="1258.4" y1="381.25" x2="1252.1000000000001" y2="381.25" stroke="#262626" stroke-width="1.1"/>
<line x1="102.6" y1="373.25" x2="108.89999999999999" y2="373.25" stroke="#262626" stroke-width="1.1"/>
<line x1="1258.4" y1="373.25" x2="1252.1000000000001" y2="373.25" stroke="#262626" stroke-width="1.1"/>
<line x1="102.6" y1="366.10" x2="114.89999999999999" y2="366.10" stroke="#262626" stroke-width="1.1"/>
<line x1="1258.4" y1="366.10" x2="1246.1000000000001" y2="366.10" stroke="#262626" stroke-width="1.1"/>
<rect x="102.6" y="366.1" width="1155.8000000000002" height="313.9" fill="none" stroke="#262626" stroke-width="1.2"/>
<text transform="translate(91.4,689.20) scale(0.95,1)" text-anchor="end" class="tl">0.1</text>
<text transform="translate(91.4,531.60) scale(0.95,1)" text-anchor="end" class="tl">1.0</text>
<text transform="translate(91.4,375.30) scale(0.95,1)" text-anchor="end" class="tl">10</text>
<defs><clipPath id="c1"><rect x="102.6" y="9.4" width="1155.8000000000002" height="316.40000000000003"/></clipPath><clipPath id="c2"><rect x="102.6" y="366.1" width="1155.8000000000002" height="313.9"/></clipPath></defs>
<text transform="translate(137.30,709.3) rotate(-45) scale(0.95,1)" text-anchor="end" class="tl">May-2013</text>
<text transform="translate(209.50,709.3) rotate(-45) scale(0.95,1)" text-anchor="end" class="tl">Jul-2013</text>
<text transform="translate(283.50,709.3) rotate(-45) scale(0.95,1)" text-anchor="end" class="tl">Sep-2013</text>
<text transform="translate(356.40,709.3) rotate(-45) scale(0.95,1)" text-anchor="end" class="tl">Nov-2013</text>
<text transform="translate(428.40,709.3) rotate(-45) scale(0.95,1)" text-anchor="end" class="tl">Jan-2014</text>
<text transform="translate(498.90,709.3) rotate(-45) scale(0.95,1)" text-anchor="end" class="tl">Mar-2014</text>
<text transform="translate(569.60,709.3) rotate(-45) scale(0.95,1)" text-anchor="end" class="tl">May-2014</text>
<text transform="translate(642.40,709.3) rotate(-45) scale(0.95,1)" text-anchor="end" class="tl">Jul-2014</text>
<text transform="translate(716.40,709.3) rotate(-45) scale(0.95,1)" text-anchor="end" class="tl">Sep-2014</text>
<text transform="translate(788.40,709.3) rotate(-45) scale(0.95,1)" text-anchor="end" class="tl">Nov-2014</text>
<text transform="translate(861.40,709.3) rotate(-45) scale(0.95,1)" text-anchor="end" class="tl">Jan-2015</text>
<text transform="translate(930.70,709.3) rotate(-45) scale(0.95,1)" text-anchor="end" class="tl">Mar-2015</text>
<text transform="translate(1003.90,709.3) rotate(-45) scale(0.95,1)" text-anchor="end" class="tl">May-2015</text>
<text transform="translate(1077.00,709.3) rotate(-45) scale(0.95,1)" text-anchor="end" class="tl">Jul-2015</text>
<text transform="translate(1148.30,709.3) rotate(-45) scale(0.95,1)" text-anchor="end" class="tl">Sep-2015</text>
<text transform="translate(1221.40,709.3) rotate(-45) scale(0.95,1)" text-anchor="end" class="tl">Nov-2015</text>
<text transform="translate(20.9,278.1) rotate(-90)" class="yl">iPOC</text>
<text transform="translate(36.3,210.5) rotate(-90)" class="sb">eu</text>
<text transform="translate(20.9,177.8) rotate(-90)" class="yl">/</text>
<text transform="translate(20.9,163) rotate(-90)" class="yl">iPOC</text>
<text transform="translate(36.3,93.5) rotate(-90)" class="sb">sub</text>
<text transform="translate(26,688.3) rotate(-90)" class="yl">iPOC</text>
<text transform="translate(41,620.4) rotate(-90)" class="sb">eu</text>
<text transform="translate(26,595.9) rotate(-90)" class="yl">+</text>
<text transform="translate(26,579.6) rotate(-90)" class="yl">iPOC</text>
<text transform="translate(41,511.7) rotate(-90)" class="sb">sub</text>
<text transform="translate(26,468.5) rotate(-90)" class="yl">/</text>
<text transform="translate(26,452.7) rotate(-90)" class="yl">iPOC</text>
<text transform="translate(41,385.9) rotate(-90)" class="sb">me</text>
<text transform="translate(1107.6,551.40) scale(1.05,1)" class="lg" fill="#011959">Float 6901480</text>
<text transform="translate(1107.6,573.38) scale(1.05,1)" class="lg" fill="#165260">Float 6901521</text>
<text transform="translate(1107.6,595.36) scale(1.05,1)" class="lg" fill="#557848">Float 6901523</text>
<text transform="translate(1107.6,617.34) scale(1.05,1)" class="lg" fill="#B28C30">Float 6901524</text>
<text transform="translate(1107.6,639.32) scale(1.05,1)" class="lg" fill="#FAA587">Float 6901525</text>
<text transform="translate(1107.6,661.30) scale(1.05,1)" class="lg" fill="#FACCFA">Float 6901527</text>
</svg>
</body></html>
